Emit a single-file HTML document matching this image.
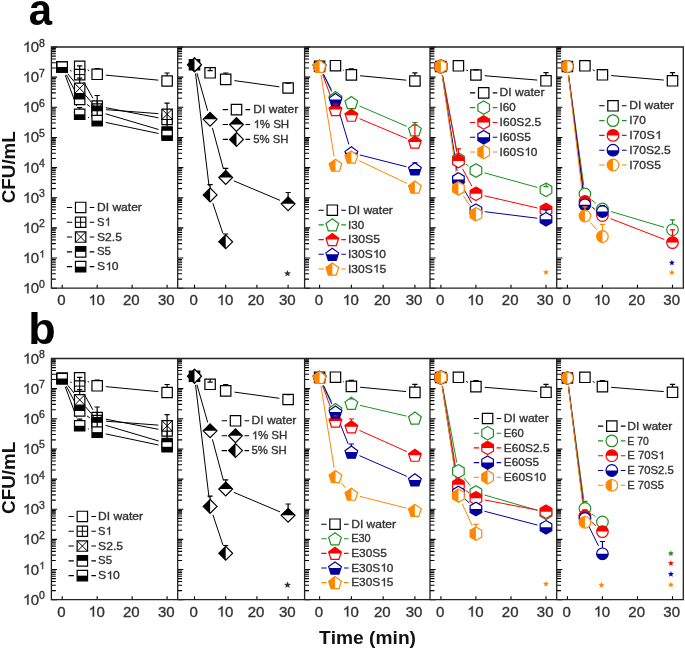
<!DOCTYPE html>
<html><head><meta charset="utf-8"><style>
html,body{margin:0;padding:0;background:#fff;}
svg{display:block;will-change:transform;}
text{font-family:"Liberation Sans",sans-serif;font-kerning:none;}
.tk{font-size:14px;fill:#333;}
.sp{font-size:10px;fill:#333;}
.lg{font-size:11px;fill:#333;}
.big{font-size:45px;font-weight:bold;fill:#000;}
.ax{font-size:17.5px;font-weight:bold;fill:#111;}
</style></head><body>
<svg width="685" height="649" viewBox="0 0 685 649">
<rect width="685" height="649" fill="#fff"/>
<path d="M51.4,288.2H57M51.4,279.12H55.8M51.4,273.81H55.8M51.4,270.05H55.8M51.4,267.13H55.8M51.4,264.74H55.8M51.4,262.72H55.8M51.4,260.97H55.8M51.4,259.43H55.8M51.4,258.05H57M51.4,248.97H55.8M51.4,243.66H55.8M51.4,239.9H55.8M51.4,236.98H55.8M51.4,234.59H55.8M51.4,232.57H55.8M51.4,230.82H55.8M51.4,229.28H55.8M51.4,227.9H57M51.4,218.82H55.8M51.4,213.51H55.8M51.4,209.75H55.8M51.4,206.83H55.8M51.4,204.44H55.8M51.4,202.42H55.8M51.4,200.67H55.8M51.4,199.13H55.8M51.4,197.75H57M51.4,188.67H55.8M51.4,183.36H55.8M51.4,179.6H55.8M51.4,176.68H55.8M51.4,174.29H55.8M51.4,172.27H55.8M51.4,170.52H55.8M51.4,168.98H55.8M51.4,167.6H57M51.4,158.52H55.8M51.4,153.21H55.8M51.4,149.45H55.8M51.4,146.53H55.8M51.4,144.14H55.8M51.4,142.12H55.8M51.4,140.37H55.8M51.4,138.83H55.8M51.4,137.45H57M51.4,128.37H55.8M51.4,123.06H55.8M51.4,119.3H55.8M51.4,116.38H55.8M51.4,113.99H55.8M51.4,111.97H55.8M51.4,110.22H55.8M51.4,108.68H55.8M51.4,107.3H57M51.4,98.22H55.8M51.4,92.91H55.8M51.4,89.15H55.8M51.4,86.23H55.8M51.4,83.84H55.8M51.4,81.82H55.8M51.4,80.07H55.8M51.4,78.53H55.8M51.4,77.15H57M51.4,68.07H55.8M51.4,62.76H55.8M51.4,59H55.8M51.4,56.08H55.8M51.4,53.69H55.8M51.4,51.67H55.8M51.4,49.92H55.8M51.4,48.38H55.8M51.4,47H57M62.2,288.2V284.7M97.17,288.2V284.7M132.13,288.2V284.7M167.1,288.2V284.7M177.7,288.2H183.3M177.7,279.12H182.1M177.7,273.81H182.1M177.7,270.05H182.1M177.7,267.13H182.1M177.7,264.74H182.1M177.7,262.72H182.1M177.7,260.97H182.1M177.7,259.43H182.1M177.7,258.05H183.3M177.7,248.97H182.1M177.7,243.66H182.1M177.7,239.9H182.1M177.7,236.98H182.1M177.7,234.59H182.1M177.7,232.57H182.1M177.7,230.82H182.1M177.7,229.28H182.1M177.7,227.9H183.3M177.7,218.82H182.1M177.7,213.51H182.1M177.7,209.75H182.1M177.7,206.83H182.1M177.7,204.44H182.1M177.7,202.42H182.1M177.7,200.67H182.1M177.7,199.13H182.1M177.7,197.75H183.3M177.7,188.67H182.1M177.7,183.36H182.1M177.7,179.6H182.1M177.7,176.68H182.1M177.7,174.29H182.1M177.7,172.27H182.1M177.7,170.52H182.1M177.7,168.98H182.1M177.7,167.6H183.3M177.7,158.52H182.1M177.7,153.21H182.1M177.7,149.45H182.1M177.7,146.53H182.1M177.7,144.14H182.1M177.7,142.12H182.1M177.7,140.37H182.1M177.7,138.83H182.1M177.7,137.45H183.3M177.7,128.37H182.1M177.7,123.06H182.1M177.7,119.3H182.1M177.7,116.38H182.1M177.7,113.99H182.1M177.7,111.97H182.1M177.7,110.22H182.1M177.7,108.68H182.1M177.7,107.3H183.3M177.7,98.22H182.1M177.7,92.91H182.1M177.7,89.15H182.1M177.7,86.23H182.1M177.7,83.84H182.1M177.7,81.82H182.1M177.7,80.07H182.1M177.7,78.53H182.1M177.7,77.15H183.3M177.7,68.07H182.1M177.7,62.76H182.1M177.7,59H182.1M177.7,56.08H182.1M177.7,53.69H182.1M177.7,51.67H182.1M177.7,49.92H182.1M177.7,48.38H182.1M177.7,47H183.3M194.5,288.2V284.7M225.7,288.2V284.7M256.9,288.2V284.7M288.1,288.2V284.7M304.6,288.2H310.2M304.6,279.12H309M304.6,273.81H309M304.6,270.05H309M304.6,267.13H309M304.6,264.74H309M304.6,262.72H309M304.6,260.97H309M304.6,259.43H309M304.6,258.05H310.2M304.6,248.97H309M304.6,243.66H309M304.6,239.9H309M304.6,236.98H309M304.6,234.59H309M304.6,232.57H309M304.6,230.82H309M304.6,229.28H309M304.6,227.9H310.2M304.6,218.82H309M304.6,213.51H309M304.6,209.75H309M304.6,206.83H309M304.6,204.44H309M304.6,202.42H309M304.6,200.67H309M304.6,199.13H309M304.6,197.75H310.2M304.6,188.67H309M304.6,183.36H309M304.6,179.6H309M304.6,176.68H309M304.6,174.29H309M304.6,172.27H309M304.6,170.52H309M304.6,168.98H309M304.6,167.6H310.2M304.6,158.52H309M304.6,153.21H309M304.6,149.45H309M304.6,146.53H309M304.6,144.14H309M304.6,142.12H309M304.6,140.37H309M304.6,138.83H309M304.6,137.45H310.2M304.6,128.37H309M304.6,123.06H309M304.6,119.3H309M304.6,116.38H309M304.6,113.99H309M304.6,111.97H309M304.6,110.22H309M304.6,108.68H309M304.6,107.3H310.2M304.6,98.22H309M304.6,92.91H309M304.6,89.15H309M304.6,86.23H309M304.6,83.84H309M304.6,81.82H309M304.6,80.07H309M304.6,78.53H309M304.6,77.15H310.2M304.6,68.07H309M304.6,62.76H309M304.6,59H309M304.6,56.08H309M304.6,53.69H309M304.6,51.67H309M304.6,49.92H309M304.6,48.38H309M304.6,47H310.2M319.6,288.2V284.7M351.37,288.2V284.7M383.13,288.2V284.7M414.9,288.2V284.7M430,288.2H435.6M430,279.12H434.4M430,273.81H434.4M430,270.05H434.4M430,267.13H434.4M430,264.74H434.4M430,262.72H434.4M430,260.97H434.4M430,259.43H434.4M430,258.05H435.6M430,248.97H434.4M430,243.66H434.4M430,239.9H434.4M430,236.98H434.4M430,234.59H434.4M430,232.57H434.4M430,230.82H434.4M430,229.28H434.4M430,227.9H435.6M430,218.82H434.4M430,213.51H434.4M430,209.75H434.4M430,206.83H434.4M430,204.44H434.4M430,202.42H434.4M430,200.67H434.4M430,199.13H434.4M430,197.75H435.6M430,188.67H434.4M430,183.36H434.4M430,179.6H434.4M430,176.68H434.4M430,174.29H434.4M430,172.27H434.4M430,170.52H434.4M430,168.98H434.4M430,167.6H435.6M430,158.52H434.4M430,153.21H434.4M430,149.45H434.4M430,146.53H434.4M430,144.14H434.4M430,142.12H434.4M430,140.37H434.4M430,138.83H434.4M430,137.45H435.6M430,128.37H434.4M430,123.06H434.4M430,119.3H434.4M430,116.38H434.4M430,113.99H434.4M430,111.97H434.4M430,110.22H434.4M430,108.68H434.4M430,107.3H435.6M430,98.22H434.4M430,92.91H434.4M430,89.15H434.4M430,86.23H434.4M430,83.84H434.4M430,81.82H434.4M430,80.07H434.4M430,78.53H434.4M430,77.15H435.6M430,68.07H434.4M430,62.76H434.4M430,59H434.4M430,56.08H434.4M430,53.69H434.4M430,51.67H434.4M430,49.92H434.4M430,48.38H434.4M430,47H435.6M440.9,288.2V284.7M475.93,288.2V284.7M510.97,288.2V284.7M546,288.2V284.7M556.7,288.2H562.3M556.7,279.12H561.1M556.7,273.81H561.1M556.7,270.05H561.1M556.7,267.13H561.1M556.7,264.74H561.1M556.7,262.72H561.1M556.7,260.97H561.1M556.7,259.43H561.1M556.7,258.05H562.3M556.7,248.97H561.1M556.7,243.66H561.1M556.7,239.9H561.1M556.7,236.98H561.1M556.7,234.59H561.1M556.7,232.57H561.1M556.7,230.82H561.1M556.7,229.28H561.1M556.7,227.9H562.3M556.7,218.82H561.1M556.7,213.51H561.1M556.7,209.75H561.1M556.7,206.83H561.1M556.7,204.44H561.1M556.7,202.42H561.1M556.7,200.67H561.1M556.7,199.13H561.1M556.7,197.75H562.3M556.7,188.67H561.1M556.7,183.36H561.1M556.7,179.6H561.1M556.7,176.68H561.1M556.7,174.29H561.1M556.7,172.27H561.1M556.7,170.52H561.1M556.7,168.98H561.1M556.7,167.6H562.3M556.7,158.52H561.1M556.7,153.21H561.1M556.7,149.45H561.1M556.7,146.53H561.1M556.7,144.14H561.1M556.7,142.12H561.1M556.7,140.37H561.1M556.7,138.83H561.1M556.7,137.45H562.3M556.7,128.37H561.1M556.7,123.06H561.1M556.7,119.3H561.1M556.7,116.38H561.1M556.7,113.99H561.1M556.7,111.97H561.1M556.7,110.22H561.1M556.7,108.68H561.1M556.7,107.3H562.3M556.7,98.22H561.1M556.7,92.91H561.1M556.7,89.15H561.1M556.7,86.23H561.1M556.7,83.84H561.1M556.7,81.82H561.1M556.7,80.07H561.1M556.7,78.53H561.1M556.7,77.15H562.3M556.7,68.07H561.1M556.7,62.76H561.1M556.7,59H561.1M556.7,56.08H561.1M556.7,53.69H561.1M556.7,51.67H561.1M556.7,49.92H561.1M556.7,48.38H561.1M556.7,47H562.3M567.4,288.2V284.7M602.43,288.2V284.7M637.47,288.2V284.7M672.5,288.2V284.7" stroke="#000" stroke-width="1.1" fill="none"/>
<path d="M51.4,47H683.3V288.2H51.4ZM177.7,47V288.2M304.6,47V288.2M430,47V288.2M556.7,47V288.2" stroke="#222" stroke-width="1.3" fill="none"/>
<line x1="87.69" y1="69.96" x2="89.16" y2="70.64" stroke="#000" stroke-width="1.0"/>
<line x1="105.93" y1="75.14" x2="158.34" y2="80.16" stroke="#000" stroke-width="1.0"/>
<line x1="70.27" y1="70.51" x2="71.61" y2="71.09" stroke="#000" stroke-width="1.0"/>
<line x1="83.96" y1="82.29" x2="92.89" y2="98.31" stroke="#000" stroke-width="1.0"/>
<line x1="105.81" y1="107.67" x2="158.46" y2="117.83" stroke="#000" stroke-width="1.0"/>
<line x1="67.77" y1="73.81" x2="74.12" y2="81.59" stroke="#000" stroke-width="1.0"/>
<line x1="85.38" y1="95.11" x2="91.47" y2="102.29" stroke="#000" stroke-width="1.0"/>
<line x1="105.94" y1="109.67" x2="158.33" y2="113.63" stroke="#000" stroke-width="1.0"/>
<line x1="66.37" y1="74.75" x2="75.51" y2="91.75" stroke="#000" stroke-width="1.0"/>
<line x1="86.98" y1="104.42" x2="89.87" y2="106.38" stroke="#000" stroke-width="1.0"/>
<line x1="105.6" y1="113.8" x2="158.66" y2="129.5" stroke="#000" stroke-width="1.0"/>
<line x1="65.25" y1="75.25" x2="76.63" y2="106.05" stroke="#000" stroke-width="1.0"/>
<line x1="87.96" y1="117.28" x2="88.89" y2="117.62" stroke="#000" stroke-width="1.0"/>
<line x1="105.78" y1="122.41" x2="158.49" y2="133.49" stroke="#000" stroke-width="1.0"/>
<polygon points="57,61.8 67.4,61.8 67.4,72.2 57,72.2" fill="#fff"/><polygon points="57,61.8 67.4,61.8 67.4,72.2 57,72.2" fill="none" stroke="#000" stroke-width="1.2"/>
<polygon points="74.48,61.1 84.88,61.1 84.88,71.5 74.48,71.5" fill="#fff"/><polygon points="74.48,61.1 84.88,61.1 84.88,71.5 74.48,71.5" fill="none" stroke="#000" stroke-width="1.2"/>
<polygon points="91.97,69.1 102.37,69.1 102.37,79.5 91.97,79.5" fill="#fff"/><polygon points="91.97,69.1 102.37,69.1 102.37,79.5 91.97,79.5" fill="none" stroke="#000" stroke-width="1.2"/>
<polygon points="161.9,75.8 172.3,75.8 172.3,86.2 161.9,86.2" fill="#fff"/><polygon points="161.9,75.8 172.3,75.8 172.3,86.2 161.9,86.2" fill="none" stroke="#000" stroke-width="1.2"/>
<polygon points="57,61.8 67.4,61.8 67.4,72.2 57,72.2" fill="#fff"/><path d="M62.2,61.8V72.2M57,67H67.4" stroke="#000" stroke-width="1" fill="none"/><polygon points="57,61.8 67.4,61.8 67.4,72.2 57,72.2" fill="none" stroke="#000" stroke-width="1.2"/>
<polygon points="74.48,69.4 84.88,69.4 84.88,79.8 74.48,79.8" fill="#fff"/><path d="M79.68,69.4V79.8M74.48,74.6H84.88" stroke="#000" stroke-width="1" fill="none"/><polygon points="74.48,69.4 84.88,69.4 84.88,79.8 74.48,79.8" fill="none" stroke="#000" stroke-width="1.2"/>
<polygon points="91.97,100.8 102.37,100.8 102.37,111.2 91.97,111.2" fill="#fff"/><path d="M97.17,100.8V111.2M91.97,106H102.37" stroke="#000" stroke-width="1" fill="none"/><polygon points="91.97,100.8 102.37,100.8 102.37,111.2 91.97,111.2" fill="none" stroke="#000" stroke-width="1.2"/>
<polygon points="161.9,114.3 172.3,114.3 172.3,124.7 161.9,124.7" fill="#fff"/><path d="M167.1,114.3V124.7M161.9,119.5H172.3" stroke="#000" stroke-width="1" fill="none"/><polygon points="161.9,114.3 172.3,114.3 172.3,124.7 161.9,124.7" fill="none" stroke="#000" stroke-width="1.2"/>
<polygon points="57,61.8 67.4,61.8 67.4,72.2 57,72.2" fill="#fff"/><path d="M57,61.8L67.4,72.2M67.4,61.8L57,72.2" stroke="#000" stroke-width="1" fill="none"/><polygon points="57,61.8 67.4,61.8 67.4,72.2 57,72.2" fill="none" stroke="#000" stroke-width="1.2"/>
<polygon points="74.48,83.2 84.88,83.2 84.88,93.6 74.48,93.6" fill="#fff"/><path d="M74.48,83.2L84.88,93.6M84.88,83.2L74.48,93.6" stroke="#000" stroke-width="1" fill="none"/><polygon points="74.48,83.2 84.88,83.2 84.88,93.6 74.48,93.6" fill="none" stroke="#000" stroke-width="1.2"/>
<polygon points="91.97,103.8 102.37,103.8 102.37,114.2 91.97,114.2" fill="#fff"/><path d="M91.97,103.8L102.37,114.2M102.37,103.8L91.97,114.2" stroke="#000" stroke-width="1" fill="none"/><polygon points="91.97,103.8 102.37,103.8 102.37,114.2 91.97,114.2" fill="none" stroke="#000" stroke-width="1.2"/>
<polygon points="161.9,109.1 172.3,109.1 172.3,119.5 161.9,119.5" fill="#fff"/><path d="M161.9,109.1L172.3,119.5M172.3,109.1L161.9,119.5" stroke="#000" stroke-width="1" fill="none"/><polygon points="161.9,109.1 172.3,109.1 172.3,119.5 161.9,119.5" fill="none" stroke="#000" stroke-width="1.2"/>
<polygon points="57,61.8 67.4,61.8 67.4,72.2 57,72.2" fill="#fff"/><polygon points="57,67 57,61.8 67.4,61.8 67.4,67" fill="#000"/><polygon points="57,61.8 67.4,61.8 67.4,72.2 57,72.2" fill="none" stroke="#000" stroke-width="1.2"/>
<polygon points="74.48,94.3 84.88,94.3 84.88,104.7 74.48,104.7" fill="#fff"/><polygon points="74.48,99.5 74.48,94.3 84.88,94.3 84.88,99.5" fill="#000"/><polygon points="74.48,94.3 84.88,94.3 84.88,104.7 74.48,104.7" fill="none" stroke="#000" stroke-width="1.2"/>
<polygon points="91.97,106.1 102.37,106.1 102.37,116.5 91.97,116.5" fill="#fff"/><polygon points="91.97,111.3 91.97,106.1 102.37,106.1 102.37,111.3" fill="#000"/><polygon points="91.97,106.1 102.37,106.1 102.37,116.5 91.97,116.5" fill="none" stroke="#000" stroke-width="1.2"/>
<polygon points="161.9,126.8 172.3,126.8 172.3,137.2 161.9,137.2" fill="#fff"/><polygon points="161.9,132 161.9,126.8 172.3,126.8 172.3,132" fill="#000"/><polygon points="161.9,126.8 172.3,126.8 172.3,137.2 161.9,137.2" fill="none" stroke="#000" stroke-width="1.2"/>
<polygon points="57,61.8 67.4,61.8 67.4,72.2 57,72.2" fill="#fff"/><polygon points="57,67 67.4,67 67.4,72.2 57,72.2" fill="#000"/><polygon points="57,61.8 67.4,61.8 67.4,72.2 57,72.2" fill="none" stroke="#000" stroke-width="1.2"/>
<polygon points="74.48,109.1 84.88,109.1 84.88,119.5 74.48,119.5" fill="#fff"/><polygon points="74.48,114.3 84.88,114.3 84.88,119.5 74.48,119.5" fill="#000"/><polygon points="74.48,109.1 84.88,109.1 84.88,119.5 74.48,119.5" fill="none" stroke="#000" stroke-width="1.2"/>
<polygon points="91.97,115.4 102.37,115.4 102.37,125.8 91.97,125.8" fill="#fff"/><polygon points="91.97,120.6 102.37,120.6 102.37,125.8 91.97,125.8" fill="#000"/><polygon points="91.97,115.4 102.37,115.4 102.37,125.8 91.97,125.8" fill="none" stroke="#000" stroke-width="1.2"/>
<polygon points="161.9,130.1 172.3,130.1 172.3,140.5 161.9,140.5" fill="#fff"/><polygon points="161.9,135.3 172.3,135.3 172.3,140.5 161.9,140.5" fill="#000"/><polygon points="161.9,130.1 172.3,130.1 172.3,140.5 161.9,140.5" fill="none" stroke="#000" stroke-width="1.2"/>
<path d="M97.17,69.1V68.5M94.57,68.5H99.77" stroke="#000" stroke-width="1.2" fill="none"/>
<path d="M167.1,75.8V73M164.5,73H169.7" stroke="#000" stroke-width="1.2" fill="none"/>
<path d="M79.68,69.4V65.8M77.08,65.8H82.28" stroke="#000" stroke-width="1.2" fill="none"/>
<path d="M79.68,83.2V78.2M77.08,78.2H82.28" stroke="#000" stroke-width="1.2" fill="none"/>
<path d="M167.1,126.8V103.2M164.5,103.2H169.7" stroke="#000" stroke-width="1.2" fill="none"/>
<path d="M79.68,109.1V107.6M77.08,107.6H82.28" stroke="#000" stroke-width="1.2" fill="none"/>
<path d="M97.17,115.4V95.5M94.57,95.5H99.77" stroke="#000" stroke-width="1.2" fill="none"/>
<path d="M66.85,207.45H72.15M89.65,207.45H94.25" stroke="#000" stroke-width="1.1"/>
<polygon points="75.45,202.25 85.85,202.25 85.85,212.65 75.45,212.65" fill="#fff"/><polygon points="75.45,202.25 85.85,202.25 85.85,212.65 75.45,212.65" fill="none" stroke="#000" stroke-width="1.2"/>
<g transform="translate(97,211.05) scale(1.022,1)" fill="#333" stroke="#333" stroke-width="0.35"><text x="0" y="0" style="font-size:11.8px">DI water</text></g>
<path d="M66.85,222.25H72.15M89.65,222.25H94.25" stroke="#000" stroke-width="1.1"/>
<polygon points="75.45,217.05 85.85,217.05 85.85,227.45 75.45,227.45" fill="#fff"/><path d="M80.65,217.05V227.45M75.45,222.25H85.85" stroke="#000" stroke-width="1" fill="none"/><polygon points="75.45,217.05 85.85,217.05 85.85,227.45 75.45,227.45" fill="none" stroke="#000" stroke-width="1.2"/>
<g transform="translate(97,225.85) scale(0.944,1)" fill="#333" stroke="#333" stroke-width="0.35"><text x="0" y="0" style="font-size:11.8px">S </text><path d="M823 0H643V1098Q578 1038 472 979T283 890V1057Q434 1124 547 1221T707 1409H823Z" transform="translate(7.87,0) scale(0.00576,-0.00576)" stroke-width="60.75"/></g>
<path d="M66.85,237.05H72.15M89.65,237.05H94.25" stroke="#000" stroke-width="1.1"/>
<polygon points="75.45,231.85 85.85,231.85 85.85,242.25 75.45,242.25" fill="#fff"/><path d="M75.45,231.85L85.85,242.25M85.85,231.85L75.45,242.25" stroke="#000" stroke-width="1" fill="none"/><polygon points="75.45,231.85 85.85,231.85 85.85,242.25 75.45,242.25" fill="none" stroke="#000" stroke-width="1.2"/>
<g transform="translate(97,240.65) scale(1.028,1)" fill="#333" stroke="#333" stroke-width="0.35"><text x="0" y="0" style="font-size:11.8px">S2.5</text></g>
<path d="M66.85,251.85H72.15M89.65,251.85H94.25" stroke="#000" stroke-width="1.1"/>
<polygon points="75.45,246.65 85.85,246.65 85.85,257.05 75.45,257.05" fill="#fff"/><polygon points="75.45,251.85 75.45,246.65 85.85,246.65 85.85,251.85" fill="#000"/><polygon points="75.45,246.65 85.85,246.65 85.85,257.05 75.45,257.05" fill="none" stroke="#000" stroke-width="1.2"/>
<g transform="translate(97,255.45) scale(0.97,1)" fill="#333" stroke="#333" stroke-width="0.35"><text x="0" y="0" style="font-size:11.8px">S5</text></g>
<path d="M66.85,266.65H72.15M89.65,266.65H94.25" stroke="#000" stroke-width="1.1"/>
<polygon points="75.45,261.45 85.85,261.45 85.85,271.85 75.45,271.85" fill="#fff"/><polygon points="75.45,266.65 85.85,266.65 85.85,271.85 75.45,271.85" fill="#000"/><polygon points="75.45,261.45 85.85,261.45 85.85,271.85 75.45,271.85" fill="none" stroke="#000" stroke-width="1.2"/>
<g transform="translate(97,270.25) scale(1.03,1)" fill="#333" stroke="#333" stroke-width="0.35"><text x="0" y="0" style="font-size:11.8px">S 0</text><path d="M823 0H643V1098Q578 1038 472 979T283 890V1057Q434 1124 547 1221T707 1409H823Z" transform="translate(7.87,0) scale(0.00576,-0.00576)" stroke-width="60.75"/></g>
<line x1="234.42" y1="80.6" x2="279.38" y2="86.8" stroke="#000" stroke-width="1.0"/>
<line x1="196.92" y1="73.16" x2="207.68" y2="110.84" stroke="#000" stroke-width="1.0"/>
<line x1="212.38" y1="127.8" x2="223.42" y2="168.9" stroke="#000" stroke-width="1.0"/>
<line x1="233.8" y1="180.83" x2="280" y2="200.37" stroke="#000" stroke-width="1.0"/>
<line x1="195.55" y1="73.44" x2="209.05" y2="186.16" stroke="#000" stroke-width="1.0"/>
<line x1="212.88" y1="203.25" x2="222.92" y2="233.45" stroke="#000" stroke-width="1.0"/>
<polygon points="189.3,59.5 199.7,59.5 199.7,69.9 189.3,69.9" fill="#000"/><polygon points="189.3,59.5 199.7,59.5 199.7,69.9 189.3,69.9" fill="none" stroke="#000" stroke-width="1.2"/>
<polygon points="204.9,67.6 215.3,67.6 215.3,78 204.9,78" fill="#fff"/><polygon points="204.9,67.6 215.3,67.6 215.3,78 204.9,78" fill="none" stroke="#000" stroke-width="1.2"/>
<polygon points="220.5,74.2 230.9,74.2 230.9,84.6 220.5,84.6" fill="#fff"/><polygon points="220.5,74.2 230.9,74.2 230.9,84.6 220.5,84.6" fill="none" stroke="#000" stroke-width="1.2"/>
<polygon points="282.9,82.8 293.3,82.8 293.3,93.2 282.9,93.2" fill="#fff"/><polygon points="282.9,82.8 293.3,82.8 293.3,93.2 282.9,93.2" fill="none" stroke="#000" stroke-width="1.2"/>
<polygon points="194.5,57.8 201.4,64.7 194.5,71.6 187.6,64.7" fill="#fff"/><polygon points="194.5,57.8 201.4,64.7 201.4,64.7 187.6,64.7 187.6,64.7" fill="#000"/><polygon points="194.5,57.8 201.4,64.7 194.5,71.6 187.6,64.7" fill="none" stroke="#000" stroke-width="1.2"/>
<polygon points="210.1,112.4 217,119.3 210.1,126.2 203.2,119.3" fill="#fff"/><polygon points="210.1,112.4 217,119.3 217,119.3 203.2,119.3 203.2,119.3" fill="#000"/><polygon points="210.1,112.4 217,119.3 210.1,126.2 203.2,119.3" fill="none" stroke="#000" stroke-width="1.2"/>
<polygon points="225.7,170.5 232.6,177.4 225.7,184.3 218.8,177.4" fill="#fff"/><polygon points="225.7,170.5 232.6,177.4 232.6,177.4 218.8,177.4 218.8,177.4" fill="#000"/><polygon points="225.7,170.5 232.6,177.4 225.7,184.3 218.8,177.4" fill="none" stroke="#000" stroke-width="1.2"/>
<polygon points="288.1,196.9 295,203.8 288.1,210.7 281.2,203.8" fill="#fff"/><polygon points="288.1,196.9 295,203.8 295,203.8 281.2,203.8 281.2,203.8" fill="#000"/><polygon points="288.1,196.9 295,203.8 288.1,210.7 281.2,203.8" fill="none" stroke="#000" stroke-width="1.2"/>
<polygon points="194.5,57.8 201.4,64.7 194.5,71.6 187.6,64.7" fill="#fff"/><polygon points="194.5,57.8 194.5,57.8 194.5,71.6 194.5,71.6 187.6,64.7" fill="#000"/><polygon points="194.5,57.8 201.4,64.7 194.5,71.6 187.6,64.7" fill="none" stroke="#000" stroke-width="1.2"/>
<polygon points="210.1,188 217,194.9 210.1,201.8 203.2,194.9" fill="#fff"/><polygon points="210.1,188 210.1,188 210.1,201.8 210.1,201.8 203.2,194.9" fill="#000"/><polygon points="210.1,188 217,194.9 210.1,201.8 203.2,194.9" fill="none" stroke="#000" stroke-width="1.2"/>
<polygon points="225.7,234.9 232.6,241.8 225.7,248.7 218.8,241.8" fill="#fff"/><polygon points="225.7,234.9 225.7,234.9 225.7,248.7 225.7,248.7 218.8,241.8" fill="#000"/><polygon points="225.7,234.9 232.6,241.8 225.7,248.7 218.8,241.8" fill="none" stroke="#000" stroke-width="1.2"/>
<path d="M210.1,67.6V70.7M207.5,70.7H212.7" stroke="#000" stroke-width="1.2" fill="none"/>
<path d="M225.7,74.2V73M223.1,73H228.3" stroke="#000" stroke-width="1.2" fill="none"/>
<path d="M288.1,82.8V83.2M285.5,83.2H290.7" stroke="#000" stroke-width="1.2" fill="none"/>
<path d="M225.7,170.5V168.3M223.1,168.3H228.3" stroke="#000" stroke-width="1.2" fill="none"/>
<path d="M288.1,196.9V192.5M285.5,192.5H290.7" stroke="#000" stroke-width="1.2" fill="none"/>
<path d="M210.1,188V184.6M207.5,184.6H212.7" stroke="#000" stroke-width="1.2" fill="none"/>
<path d="M225.7,234.9V234M223.1,234H228.3" stroke="#000" stroke-width="1.2" fill="none"/>
<polygon points="287.5,269.9 288.45,272.19 290.92,272.39 289.04,274 289.62,276.41 287.5,275.12 285.38,276.41 285.96,274 284.08,272.39 286.55,272.19" fill="#333"/>
<path d="M222.7,109.6H228M245.5,109.6H250.1" stroke="#000" stroke-width="1.1"/>
<polygon points="231.3,104.4 241.7,104.4 241.7,114.8 231.3,114.8" fill="#fff"/><polygon points="231.3,104.4 241.7,104.4 241.7,114.8 231.3,114.8" fill="none" stroke="#000" stroke-width="1.2"/>
<g transform="translate(253.3,113.2) scale(1.022,1)" fill="#333" stroke="#333" stroke-width="0.35"><text x="0" y="0" style="font-size:11.8px">DI water</text></g>
<path d="M222.7,124.5H228M245.5,124.5H250.1" stroke="#000" stroke-width="1.1"/>
<polygon points="236.5,117.6 243.4,124.5 236.5,131.4 229.6,124.5" fill="#fff"/><polygon points="236.5,117.6 243.4,124.5 243.4,124.5 229.6,124.5 229.6,124.5" fill="#000"/><polygon points="236.5,117.6 243.4,124.5 236.5,131.4 229.6,124.5" fill="none" stroke="#000" stroke-width="1.2"/>
<g transform="translate(253.3,128.1) scale(0.979,1)" fill="#333" stroke="#333" stroke-width="0.35"><text x="0" y="0" style="font-size:11.8px"> % SH</text><path d="M823 0H643V1098Q578 1038 472 979T283 890V1057Q434 1124 547 1221T707 1409H823Z" transform="translate(0,0) scale(0.00576,-0.00576)" stroke-width="60.75"/></g>
<path d="M222.7,139.4H228M245.5,139.4H250.1" stroke="#000" stroke-width="1.1"/>
<polygon points="236.5,132.5 243.4,139.4 236.5,146.3 229.6,139.4" fill="#fff"/><polygon points="236.5,132.5 236.5,132.5 236.5,146.3 236.5,146.3 229.6,139.4" fill="#000"/><polygon points="236.5,132.5 243.4,139.4 236.5,146.3 229.6,139.4" fill="none" stroke="#000" stroke-width="1.2"/>
<g transform="translate(253.3,143) scale(0.96,1)" fill="#333" stroke="#333" stroke-width="0.35"><text x="0" y="0" style="font-size:11.8px">5% SH</text></g>
<line x1="343.1" y1="70.11" x2="343.75" y2="70.49" stroke="#000" stroke-width="1.0"/>
<line x1="360.13" y1="75.74" x2="406.14" y2="80.16" stroke="#000" stroke-width="1.0"/>
<line x1="323.58" y1="74.15" x2="331.5" y2="89.75" stroke="#1f911f" stroke-width="1.0"/>
<line x1="359.45" y1="105.97" x2="406.81" y2="126.33" stroke="#1f911f" stroke-width="1.0"/>
<line x1="322.64" y1="74.56" x2="332.45" y2="101.24" stroke="#ff0000" stroke-width="1.0"/>
<line x1="359.47" y1="118.62" x2="406.79" y2="138.58" stroke="#ff0000" stroke-width="1.0"/>
<line x1="323.4" y1="74.24" x2="331.69" y2="91.56" stroke="#0000a0" stroke-width="1.0"/>
<line x1="338" y1="107.93" x2="348.85" y2="144.37" stroke="#0000a0" stroke-width="1.0"/>
<line x1="359.9" y1="154.96" x2="406.37" y2="166.74" stroke="#0000a0" stroke-width="1.0"/>
<line x1="321" y1="74.99" x2="334.09" y2="156.51" stroke="#ff8800" stroke-width="1.0"/>
<line x1="359.32" y1="160.77" x2="406.95" y2="183.33" stroke="#ff8800" stroke-width="1.0"/>
<polygon points="314.4,61.1 324.8,61.1 324.8,71.5 314.4,71.5" fill="#fff"/><polygon points="314.4,61.1 324.8,61.1 324.8,71.5 314.4,71.5" fill="none" stroke="#000" stroke-width="1.2"/>
<polygon points="330.28,60.5 340.68,60.5 340.68,70.9 330.28,70.9" fill="#fff"/><polygon points="330.28,60.5 340.68,60.5 340.68,70.9 330.28,70.9" fill="none" stroke="#000" stroke-width="1.2"/>
<polygon points="346.17,69.7 356.57,69.7 356.57,80.1 346.17,80.1" fill="#fff"/><polygon points="346.17,69.7 356.57,69.7 356.57,80.1 346.17,80.1" fill="none" stroke="#000" stroke-width="1.2"/>
<polygon points="409.7,75.8 420.1,75.8 420.1,86.2 409.7,86.2" fill="#fff"/><polygon points="409.7,75.8 420.1,75.8 420.1,86.2 409.7,86.2" fill="none" stroke="#000" stroke-width="1.2"/>
<polygon points="319.6,60.24 325.97,64.87 323.54,72.36 315.66,72.36 313.23,64.87" fill="#fff"/><polygon points="319.6,60.24 325.97,64.87 323.54,72.36 315.66,72.36 313.23,64.87" fill="none" stroke="#1f911f" stroke-width="1.2"/>
<polygon points="335.48,91.54 341.86,96.17 339.42,103.66 331.55,103.66 329.11,96.17" fill="#fff"/><polygon points="335.48,91.54 341.86,96.17 339.42,103.66 331.55,103.66 329.11,96.17" fill="none" stroke="#1f911f" stroke-width="1.2"/>
<polygon points="351.37,96.44 357.74,101.07 355.3,108.56 347.43,108.56 344.99,101.07" fill="#fff"/><polygon points="351.37,96.44 357.74,101.07 355.3,108.56 347.43,108.56 344.99,101.07" fill="none" stroke="#1f911f" stroke-width="1.2"/>
<polygon points="414.9,123.74 421.27,128.37 418.84,135.86 410.96,135.86 408.53,128.37" fill="#fff"/><polygon points="414.9,123.74 421.27,128.37 418.84,135.86 410.96,135.86 408.53,128.37" fill="none" stroke="#1f911f" stroke-width="1.2"/>
<polygon points="319.6,60.24 325.97,64.87 323.54,72.36 315.66,72.36 313.23,64.87" fill="#fff"/><polygon points="319.6,60.24 325.97,64.87 325.51,66.3 313.69,66.3 313.23,64.87" fill="#ff0000"/><polygon points="319.6,60.24 325.97,64.87 323.54,72.36 315.66,72.36 313.23,64.87" fill="none" stroke="#ff0000" stroke-width="1.2"/>
<polygon points="335.48,103.44 341.86,108.07 339.42,115.56 331.55,115.56 329.11,108.07" fill="#fff"/><polygon points="335.48,103.44 341.86,108.07 341.39,109.5 329.58,109.5 329.11,108.07" fill="#ff0000"/><polygon points="335.48,103.44 341.86,108.07 339.42,115.56 331.55,115.56 329.11,108.07" fill="none" stroke="#ff0000" stroke-width="1.2"/>
<polygon points="351.37,109.14 357.74,113.77 355.3,121.26 347.43,121.26 344.99,113.77" fill="#fff"/><polygon points="351.37,109.14 357.74,113.77 357.27,115.2 345.46,115.2 344.99,113.77" fill="#ff0000"/><polygon points="351.37,109.14 357.74,113.77 355.3,121.26 347.43,121.26 344.99,113.77" fill="none" stroke="#ff0000" stroke-width="1.2"/>
<polygon points="414.9,135.94 421.27,140.57 418.84,148.06 410.96,148.06 408.53,140.57" fill="#fff"/><polygon points="414.9,135.94 421.27,140.57 420.81,142 408.99,142 408.53,140.57" fill="#ff0000"/><polygon points="414.9,135.94 421.27,140.57 418.84,148.06 410.96,148.06 408.53,140.57" fill="none" stroke="#ff0000" stroke-width="1.2"/>
<polygon points="319.6,60.24 325.97,64.87 323.54,72.36 315.66,72.36 313.23,64.87" fill="#fff"/><polygon points="325.51,66.3 323.54,72.36 315.66,72.36 313.69,66.3" fill="#0000a0"/><polygon points="319.6,60.24 325.97,64.87 323.54,72.36 315.66,72.36 313.23,64.87" fill="none" stroke="#0000a0" stroke-width="1.2"/>
<polygon points="335.48,93.44 341.86,98.07 339.42,105.56 331.55,105.56 329.11,98.07" fill="#fff"/><polygon points="341.39,99.5 339.42,105.56 331.55,105.56 329.58,99.5" fill="#0000a0"/><polygon points="335.48,93.44 341.86,98.07 339.42,105.56 331.55,105.56 329.11,98.07" fill="none" stroke="#0000a0" stroke-width="1.2"/>
<polygon points="351.37,146.74 357.74,151.37 355.3,158.86 347.43,158.86 344.99,151.37" fill="#fff"/><polygon points="357.27,152.8 355.3,158.86 347.43,158.86 345.46,152.8" fill="#0000a0"/><polygon points="351.37,146.74 357.74,151.37 355.3,158.86 347.43,158.86 344.99,151.37" fill="none" stroke="#0000a0" stroke-width="1.2"/>
<polygon points="414.9,162.84 421.27,167.47 418.84,174.96 410.96,174.96 408.53,167.47" fill="#fff"/><polygon points="420.81,168.9 418.84,174.96 410.96,174.96 408.99,168.9" fill="#0000a0"/><polygon points="414.9,162.84 421.27,167.47 418.84,174.96 410.96,174.96 408.53,167.47" fill="none" stroke="#0000a0" stroke-width="1.2"/>
<polygon points="319.6,60.24 325.97,64.87 323.54,72.36 315.66,72.36 313.23,64.87" fill="#fff"/><polygon points="319.6,60.24 319.6,60.24 319.6,72.36 315.66,72.36 313.23,64.87" fill="#ff8800"/><polygon points="319.6,60.24 325.97,64.87 323.54,72.36 315.66,72.36 313.23,64.87" fill="none" stroke="#ff8800" stroke-width="1.2"/>
<polygon points="335.48,159.14 341.86,163.77 339.42,171.26 331.55,171.26 329.11,163.77" fill="#fff"/><polygon points="335.48,159.14 335.48,159.14 335.48,171.26 331.55,171.26 329.11,163.77" fill="#ff8800"/><polygon points="335.48,159.14 341.86,163.77 339.42,171.26 331.55,171.26 329.11,163.77" fill="none" stroke="#ff8800" stroke-width="1.2"/>
<polygon points="351.37,150.94 357.74,155.57 355.3,163.06 347.43,163.06 344.99,155.57" fill="#fff"/><polygon points="351.37,150.94 351.37,150.94 351.37,163.06 347.43,163.06 344.99,155.57" fill="#ff8800"/><polygon points="351.37,150.94 357.74,155.57 355.3,163.06 347.43,163.06 344.99,155.57" fill="none" stroke="#ff8800" stroke-width="1.2"/>
<polygon points="414.9,181.04 421.27,185.67 418.84,193.16 410.96,193.16 408.53,185.67" fill="#fff"/><polygon points="414.9,181.04 414.9,181.04 414.9,193.16 410.96,193.16 408.53,185.67" fill="#ff8800"/><polygon points="414.9,181.04 421.27,185.67 418.84,193.16 410.96,193.16 408.53,185.67" fill="none" stroke="#ff8800" stroke-width="1.2"/>
<path d="M351.37,69.7V68.8M348.77,68.8H353.97" stroke="#000" stroke-width="1.2" fill="none"/>
<path d="M414.9,75.8V72.9M412.3,72.9H417.5" stroke="#000" stroke-width="1.2" fill="none"/>
<path d="M414.9,123.74V122.5M412.3,122.5H417.5" stroke="#1f911f" stroke-width="1.2" fill="none"/>
<path d="M335.48,103.44V104.1M332.88,104.1H338.08" stroke="#ff0000" stroke-width="1.2" fill="none"/>
<path d="M414.9,135.94V125M412.3,125H417.5" stroke="#ff0000" stroke-width="1.2" fill="none"/>
<path d="M414.9,162.84V162.8M412.3,162.8H417.5" stroke="#0000a0" stroke-width="1.2" fill="none"/>
<path d="M318.5,210.2H323.8M341.3,210.2H345.9" stroke="#000" stroke-width="1.1"/>
<polygon points="327.1,205 337.5,205 337.5,215.4 327.1,215.4" fill="#fff"/><polygon points="327.1,205 337.5,205 337.5,215.4 327.1,215.4" fill="none" stroke="#000" stroke-width="1.2"/>
<g transform="translate(348,213.8) scale(1.022,1)" fill="#333" stroke="#333" stroke-width="0.35"><text x="0" y="0" style="font-size:11.8px">DI water</text></g>
<path d="M318.5,224.9H323.8M341.3,224.9H345.9" stroke="#1f911f" stroke-width="1.1"/>
<polygon points="332.3,218.84 338.67,223.47 336.24,230.96 328.36,230.96 325.93,223.47" fill="#fff"/><polygon points="332.3,218.84 338.67,223.47 336.24,230.96 328.36,230.96 325.93,223.47" fill="none" stroke="#1f911f" stroke-width="1.2"/>
<g transform="translate(348,228.5) scale(0.983,1)" fill="#333" stroke="#333" stroke-width="0.35"><text x="0" y="0" style="font-size:11.8px">I30</text></g>
<path d="M318.5,239.6H323.8M341.3,239.6H345.9" stroke="#ff0000" stroke-width="1.1"/>
<polygon points="332.3,233.54 338.67,238.17 336.24,245.66 328.36,245.66 325.93,238.17" fill="#fff"/><polygon points="332.3,233.54 338.67,238.17 338.21,239.6 326.39,239.6 325.93,238.17" fill="#ff0000"/><polygon points="332.3,233.54 338.67,238.17 336.24,245.66 328.36,245.66 325.93,238.17" fill="none" stroke="#ff0000" stroke-width="1.2"/>
<g transform="translate(348,243.2) scale(1.043,1)" fill="#333" stroke="#333" stroke-width="0.35"><text x="0" y="0" style="font-size:11.8px">I30S5</text></g>
<path d="M318.5,254.3H323.8M341.3,254.3H345.9" stroke="#0000a0" stroke-width="1.1"/>
<polygon points="332.3,248.24 338.67,252.87 336.24,260.36 328.36,260.36 325.93,252.87" fill="#fff"/><polygon points="338.21,254.3 336.24,260.36 328.36,260.36 326.39,254.3" fill="#0000a0"/><polygon points="332.3,248.24 338.67,252.87 336.24,260.36 328.36,260.36 325.93,252.87" fill="none" stroke="#0000a0" stroke-width="1.2"/>
<g transform="translate(348,257.9) scale(1.018,1)" fill="#333" stroke="#333" stroke-width="0.35"><text x="0" y="0" style="font-size:11.8px">I30S 0</text><path d="M823 0H643V1098Q578 1038 472 979T283 890V1057Q434 1124 547 1221T707 1409H823Z" transform="translate(24.27,0) scale(0.00576,-0.00576)" stroke-width="60.75"/></g>
<path d="M318.5,269H323.8M341.3,269H345.9" stroke="#ff8800" stroke-width="1.1"/>
<polygon points="332.3,262.94 338.67,267.57 336.24,275.06 328.36,275.06 325.93,267.57" fill="#fff"/><polygon points="332.3,262.94 332.3,262.94 332.3,275.06 328.36,275.06 325.93,267.57" fill="#ff8800"/><polygon points="332.3,262.94 338.67,267.57 336.24,275.06 328.36,275.06 325.93,267.57" fill="none" stroke="#ff8800" stroke-width="1.2"/>
<g transform="translate(348,272.6) scale(1.019,1)" fill="#333" stroke="#333" stroke-width="0.35"><text x="0" y="0" style="font-size:11.8px">I30S 5</text><path d="M823 0H643V1098Q578 1038 472 979T283 890V1057Q434 1124 547 1221T707 1409H823Z" transform="translate(24.27,0) scale(0.00576,-0.00576)" stroke-width="60.75"/></g>
<line x1="466.21" y1="69.89" x2="468.14" y2="70.91" stroke="#000" stroke-width="1.0"/>
<line x1="484.7" y1="75.73" x2="537.23" y2="80.07" stroke="#000" stroke-width="1.0"/>
<line x1="442.53" y1="75.15" x2="456.79" y2="150.85" stroke="#1f911f" stroke-width="1.0"/>
<line x1="465.87" y1="164.18" x2="468.48" y2="165.82" stroke="#1f911f" stroke-width="1.0"/>
<line x1="484.42" y1="172.84" x2="537.52" y2="187.46" stroke="#1f911f" stroke-width="1.0"/>
<line x1="442.5" y1="75.15" x2="456.81" y2="152.35" stroke="#ff0000" stroke-width="1.0"/>
<line x1="462.56" y1="168.76" x2="471.79" y2="186.04" stroke="#ff0000" stroke-width="1.0"/>
<line x1="484.51" y1="195.78" x2="537.43" y2="208.02" stroke="#ff0000" stroke-width="1.0"/>
<line x1="442.25" y1="75.2" x2="457.07" y2="170.8" stroke="#0000a0" stroke-width="1.0"/>
<line x1="462.74" y1="187.17" x2="471.61" y2="202.93" stroke="#0000a0" stroke-width="1.0"/>
<line x1="484.67" y1="211.68" x2="537.27" y2="218.22" stroke="#0000a0" stroke-width="1.0"/>
<line x1="442.15" y1="75.21" x2="457.17" y2="179.79" stroke="#ff8800" stroke-width="1.0"/>
<line x1="463.36" y1="195.78" x2="470.99" y2="207.02" stroke="#ff8800" stroke-width="1.0"/>
<polygon points="435.7,61.3 446.1,61.3 446.1,71.7 435.7,71.7" fill="#fff"/><polygon points="435.7,61.3 446.1,61.3 446.1,71.7 435.7,71.7" fill="none" stroke="#000" stroke-width="1.2"/>
<polygon points="453.22,60.6 463.62,60.6 463.62,71 453.22,71" fill="#fff"/><polygon points="453.22,60.6 463.62,60.6 463.62,71 453.22,71" fill="none" stroke="#000" stroke-width="1.2"/>
<polygon points="470.73,69.8 481.13,69.8 481.13,80.2 470.73,80.2" fill="#fff"/><polygon points="470.73,69.8 481.13,69.8 481.13,80.2 470.73,80.2" fill="none" stroke="#000" stroke-width="1.2"/>
<polygon points="540.8,75.6 551.2,75.6 551.2,86 540.8,86" fill="#fff"/><polygon points="540.8,75.6 551.2,75.6 551.2,86 540.8,86" fill="none" stroke="#000" stroke-width="1.2"/>
<polygon points="440.9,59.8 446.7,63.15 446.7,69.85 440.9,73.2 435.1,69.85 435.1,63.15" fill="#fff"/><polygon points="440.9,59.8 446.7,63.15 446.7,69.85 440.9,73.2 435.1,69.85 435.1,63.15" fill="none" stroke="#1f911f" stroke-width="1.2"/>
<polygon points="458.42,152.8 464.22,156.15 464.22,162.85 458.42,166.2 452.61,162.85 452.61,156.15" fill="#fff"/><polygon points="458.42,152.8 464.22,156.15 464.22,162.85 458.42,166.2 452.61,162.85 452.61,156.15" fill="none" stroke="#1f911f" stroke-width="1.2"/>
<polygon points="475.93,163.8 481.74,167.15 481.74,173.85 475.93,177.2 470.13,173.85 470.13,167.15" fill="#fff"/><polygon points="475.93,163.8 481.74,167.15 481.74,173.85 475.93,177.2 470.13,173.85 470.13,167.15" fill="none" stroke="#1f911f" stroke-width="1.2"/>
<polygon points="546,183.1 551.8,186.45 551.8,193.15 546,196.5 540.2,193.15 540.2,186.45" fill="#fff"/><polygon points="546,183.1 551.8,186.45 551.8,193.15 546,196.5 540.2,193.15 540.2,186.45" fill="none" stroke="#1f911f" stroke-width="1.2"/>
<polygon points="440.9,59.8 446.7,63.15 446.7,69.85 440.9,73.2 435.1,69.85 435.1,63.15" fill="#fff"/><polygon points="440.9,59.8 446.7,63.15 446.7,66.5 435.1,66.5 435.1,63.15" fill="#ff0000"/><polygon points="440.9,59.8 446.7,63.15 446.7,69.85 440.9,73.2 435.1,69.85 435.1,63.15" fill="none" stroke="#ff0000" stroke-width="1.2"/>
<polygon points="458.42,154.3 464.22,157.65 464.22,164.35 458.42,167.7 452.61,164.35 452.61,157.65" fill="#fff"/><polygon points="458.42,154.3 464.22,157.65 464.22,161 452.61,161 452.61,157.65" fill="#ff0000"/><polygon points="458.42,154.3 464.22,157.65 464.22,164.35 458.42,167.7 452.61,164.35 452.61,157.65" fill="none" stroke="#ff0000" stroke-width="1.2"/>
<polygon points="475.93,187.1 481.74,190.45 481.74,197.15 475.93,200.5 470.13,197.15 470.13,190.45" fill="#fff"/><polygon points="475.93,187.1 481.74,190.45 481.74,193.8 470.13,193.8 470.13,190.45" fill="#ff0000"/><polygon points="475.93,187.1 481.74,190.45 481.74,197.15 475.93,200.5 470.13,197.15 470.13,190.45" fill="none" stroke="#ff0000" stroke-width="1.2"/>
<polygon points="546,203.3 551.8,206.65 551.8,213.35 546,216.7 540.2,213.35 540.2,206.65" fill="#fff"/><polygon points="546,203.3 551.8,206.65 551.8,210 540.2,210 540.2,206.65" fill="#ff0000"/><polygon points="546,203.3 551.8,206.65 551.8,213.35 546,216.7 540.2,213.35 540.2,206.65" fill="none" stroke="#ff0000" stroke-width="1.2"/>
<polygon points="440.9,59.8 446.7,63.15 446.7,69.85 440.9,73.2 435.1,69.85 435.1,63.15" fill="#fff"/><polygon points="446.7,66.5 446.7,69.85 440.9,73.2 435.1,69.85 435.1,66.5" fill="#0000a0"/><polygon points="440.9,59.8 446.7,63.15 446.7,69.85 440.9,73.2 435.1,69.85 435.1,63.15" fill="none" stroke="#0000a0" stroke-width="1.2"/>
<polygon points="458.42,172.8 464.22,176.15 464.22,182.85 458.42,186.2 452.61,182.85 452.61,176.15" fill="#fff"/><polygon points="464.22,179.5 464.22,182.85 458.42,186.2 452.61,182.85 452.61,179.5" fill="#0000a0"/><polygon points="458.42,172.8 464.22,176.15 464.22,182.85 458.42,186.2 452.61,182.85 452.61,176.15" fill="none" stroke="#0000a0" stroke-width="1.2"/>
<polygon points="475.93,203.9 481.74,207.25 481.74,213.95 475.93,217.3 470.13,213.95 470.13,207.25" fill="#fff"/><polygon points="481.74,210.6 481.74,213.95 475.93,217.3 470.13,213.95 470.13,210.6" fill="#0000a0"/><polygon points="475.93,203.9 481.74,207.25 481.74,213.95 475.93,217.3 470.13,213.95 470.13,207.25" fill="none" stroke="#0000a0" stroke-width="1.2"/>
<polygon points="546,212.6 551.8,215.95 551.8,222.65 546,226 540.2,222.65 540.2,215.95" fill="#fff"/><polygon points="551.8,219.3 551.8,222.65 546,226 540.2,222.65 540.2,219.3" fill="#0000a0"/><polygon points="546,212.6 551.8,215.95 551.8,222.65 546,226 540.2,222.65 540.2,215.95" fill="none" stroke="#0000a0" stroke-width="1.2"/>
<polygon points="440.9,59.8 446.7,63.15 446.7,69.85 440.9,73.2 435.1,69.85 435.1,63.15" fill="#fff"/><polygon points="440.9,59.8 440.9,59.8 440.9,73.2 440.9,73.2 435.1,69.85 435.1,63.15" fill="#ff8800"/><polygon points="440.9,59.8 446.7,63.15 446.7,69.85 440.9,73.2 435.1,69.85 435.1,63.15" fill="none" stroke="#ff8800" stroke-width="1.2"/>
<polygon points="458.42,181.8 464.22,185.15 464.22,191.85 458.42,195.2 452.61,191.85 452.61,185.15" fill="#fff"/><polygon points="458.42,181.8 458.42,181.8 458.42,195.2 458.42,195.2 452.61,191.85 452.61,185.15" fill="#ff8800"/><polygon points="458.42,181.8 464.22,185.15 464.22,191.85 458.42,195.2 452.61,191.85 452.61,185.15" fill="none" stroke="#ff8800" stroke-width="1.2"/>
<polygon points="475.93,207.6 481.74,210.95 481.74,217.65 475.93,221 470.13,217.65 470.13,210.95" fill="#fff"/><polygon points="475.93,207.6 475.93,207.6 475.93,221 475.93,221 470.13,217.65 470.13,210.95" fill="#ff8800"/><polygon points="475.93,207.6 481.74,210.95 481.74,217.65 475.93,221 470.13,217.65 470.13,210.95" fill="none" stroke="#ff8800" stroke-width="1.2"/>
<path d="M475.93,69.8V69.8M473.33,69.8H478.53" stroke="#000" stroke-width="1.2" fill="none"/>
<path d="M546,75.6V72.6M543.4,72.6H548.6" stroke="#000" stroke-width="1.2" fill="none"/>
<path d="M546,183.1V186.6M543.4,186.6H548.6" stroke="#1f911f" stroke-width="1.2" fill="none"/>
<path d="M458.42,154.3V148.8M455.82,148.8H461.02" stroke="#ff0000" stroke-width="1.2" fill="none"/>
<path d="M546,212.6V209.9M543.4,209.9H548.6" stroke="#0000a0" stroke-width="1.2" fill="none"/>
<polygon points="546,269.2 546.82,271.17 548.95,271.34 547.33,272.73 547.82,274.81 546,273.69 544.18,274.81 544.67,272.73 543.05,271.34 545.18,271.17" fill="#ff8800"/>
<path d="M469.9,92.85H475.2M492.7,92.85H497.3" stroke="#000" stroke-width="1.1"/>
<polygon points="478.5,87.65 488.9,87.65 488.9,98.05 478.5,98.05" fill="#fff"/><polygon points="478.5,87.65 488.9,87.65 488.9,98.05 478.5,98.05" fill="none" stroke="#000" stroke-width="1.2"/>
<g transform="translate(499.6,96.45) scale(1.022,1)" fill="#333" stroke="#333" stroke-width="0.35"><text x="0" y="0" style="font-size:11.8px">DI water</text></g>
<path d="M469.9,107.65H475.2M492.7,107.65H497.3" stroke="#1f911f" stroke-width="1.1"/>
<polygon points="483.7,100.95 489.5,104.3 489.5,111 483.7,114.35 477.9,111 477.9,104.3" fill="#fff"/><polygon points="483.7,100.95 489.5,104.3 489.5,111 483.7,114.35 477.9,111 477.9,104.3" fill="none" stroke="#1f911f" stroke-width="1.2"/>
<g transform="translate(499.6,111.25) scale(0.983,1)" fill="#333" stroke="#333" stroke-width="0.35"><text x="0" y="0" style="font-size:11.8px">I60</text></g>
<path d="M469.9,122.45H475.2M492.7,122.45H497.3" stroke="#ff0000" stroke-width="1.1"/>
<polygon points="483.7,115.75 489.5,119.1 489.5,125.8 483.7,129.15 477.9,125.8 477.9,119.1" fill="#fff"/><polygon points="483.7,115.75 489.5,119.1 489.5,122.45 477.9,122.45 477.9,119.1" fill="#ff0000"/><polygon points="483.7,115.75 489.5,119.1 489.5,125.8 483.7,129.15 477.9,125.8 477.9,119.1" fill="none" stroke="#ff0000" stroke-width="1.2"/>
<g transform="translate(499.6,126.05) scale(1.023,1)" fill="#333" stroke="#333" stroke-width="0.35"><text x="0" y="0" style="font-size:11.8px">I60S2.5</text></g>
<path d="M469.9,137.25H475.2M492.7,137.25H497.3" stroke="#0000a0" stroke-width="1.1"/>
<polygon points="483.7,130.55 489.5,133.9 489.5,140.6 483.7,143.95 477.9,140.6 477.9,133.9" fill="#fff"/><polygon points="489.5,137.25 489.5,140.6 483.7,143.95 477.9,140.6 477.9,137.25" fill="#0000a0"/><polygon points="483.7,130.55 489.5,133.9 489.5,140.6 483.7,143.95 477.9,140.6 477.9,133.9" fill="none" stroke="#0000a0" stroke-width="1.2"/>
<g transform="translate(499.6,140.85) scale(1.015,1)" fill="#333" stroke="#333" stroke-width="0.35"><text x="0" y="0" style="font-size:11.8px">I60S5</text></g>
<path d="M469.9,152.05H475.2M492.7,152.05H497.3" stroke="#ff8800" stroke-width="1.1"/>
<polygon points="483.7,145.35 489.5,148.7 489.5,155.4 483.7,158.75 477.9,155.4 477.9,148.7" fill="#fff"/><polygon points="483.7,145.35 483.7,145.35 483.7,158.75 483.7,158.75 477.9,155.4 477.9,148.7" fill="#ff8800"/><polygon points="483.7,145.35 489.5,148.7 489.5,155.4 483.7,158.75 477.9,155.4 477.9,148.7" fill="none" stroke="#ff8800" stroke-width="1.2"/>
<g transform="translate(499.6,155.65) scale(1.013,1)" fill="#333" stroke="#333" stroke-width="0.35"><text x="0" y="0" style="font-size:11.8px">I60S 0</text><path d="M823 0H643V1098Q578 1038 472 979T283 890V1057Q434 1124 547 1221T707 1409H823Z" transform="translate(24.27,0) scale(0.00576,-0.00576)" stroke-width="60.75"/></g>
<line x1="592.74" y1="69.82" x2="594.61" y2="70.78" stroke="#000" stroke-width="1.0"/>
<line x1="611.2" y1="75.55" x2="663.73" y2="80.05" stroke="#000" stroke-width="1.0"/>
<line x1="568.6" y1="75.22" x2="583.72" y2="185.28" stroke="#1f911f" stroke-width="1.0"/>
<line x1="591.6" y1="199.72" x2="595.75" y2="203.28" stroke="#1f911f" stroke-width="1.0"/>
<line x1="610.87" y1="211.5" x2="664.06" y2="227.3" stroke="#1f911f" stroke-width="1.0"/>
<line x1="568.53" y1="75.23" x2="583.78" y2="192.77" stroke="#ff0000" stroke-width="1.0"/>
<line x1="591.79" y1="206.99" x2="595.56" y2="210.01" stroke="#ff0000" stroke-width="1.0"/>
<line x1="610.64" y1="218.67" x2="664.29" y2="239.43" stroke="#ff0000" stroke-width="1.0"/>
<line x1="568.51" y1="75.23" x2="583.81" y2="196.07" stroke="#0000a0" stroke-width="1.0"/>
<line x1="593.14" y1="207.94" x2="594.21" y2="208.36" stroke="#0000a0" stroke-width="1.0"/>
<line x1="568.42" y1="75.24" x2="583.89" y2="207.26" stroke="#ff8800" stroke-width="1.0"/>
<line x1="590.63" y1="222.69" x2="596.72" y2="229.81" stroke="#ff8800" stroke-width="1.0"/>
<polygon points="562.2,61.3 572.6,61.3 572.6,71.7 562.2,71.7" fill="#fff"/><polygon points="562.2,61.3 572.6,61.3 572.6,71.7 562.2,71.7" fill="none" stroke="#000" stroke-width="1.2"/>
<polygon points="579.72,60.6 590.12,60.6 590.12,71 579.72,71" fill="#fff"/><polygon points="579.72,60.6 590.12,60.6 590.12,71 579.72,71" fill="none" stroke="#000" stroke-width="1.2"/>
<polygon points="597.23,69.6 607.63,69.6 607.63,80 597.23,80" fill="#fff"/><polygon points="597.23,69.6 607.63,69.6 607.63,80 597.23,80" fill="none" stroke="#000" stroke-width="1.2"/>
<polygon points="667.3,75.6 677.7,75.6 677.7,86 667.3,86" fill="#fff"/><polygon points="667.3,75.6 677.7,75.6 677.7,86 667.3,86" fill="none" stroke="#000" stroke-width="1.2"/>
<circle cx="567.4" cy="66.5" r="5.8" fill="#fff"/><circle cx="567.4" cy="66.5" r="5.8" fill="none" stroke="#1f911f" stroke-width="1.2"/>
<circle cx="584.92" cy="194" r="5.8" fill="#fff"/><circle cx="584.92" cy="194" r="5.8" fill="none" stroke="#1f911f" stroke-width="1.2"/>
<circle cx="602.43" cy="209" r="5.8" fill="#fff"/><circle cx="602.43" cy="209" r="5.8" fill="none" stroke="#1f911f" stroke-width="1.2"/>
<circle cx="672.5" cy="229.8" r="5.8" fill="#fff"/><circle cx="672.5" cy="229.8" r="5.8" fill="none" stroke="#1f911f" stroke-width="1.2"/>
<circle cx="567.4" cy="66.5" r="5.8" fill="#fff"/><path d="M561.6,66.5 A5.8,5.8 0 0 1 573.2,66.5 Z" fill="#ff0000"/><circle cx="567.4" cy="66.5" r="5.8" fill="none" stroke="#ff0000" stroke-width="1.2"/>
<circle cx="584.92" cy="201.5" r="5.8" fill="#fff"/><path d="M579.12,201.5 A5.8,5.8 0 0 1 590.72,201.5 Z" fill="#ff0000"/><circle cx="584.92" cy="201.5" r="5.8" fill="none" stroke="#ff0000" stroke-width="1.2"/>
<circle cx="602.43" cy="215.5" r="5.8" fill="#fff"/><path d="M596.63,215.5 A5.8,5.8 0 0 1 608.23,215.5 Z" fill="#ff0000"/><circle cx="602.43" cy="215.5" r="5.8" fill="none" stroke="#ff0000" stroke-width="1.2"/>
<circle cx="672.5" cy="242.6" r="5.8" fill="#fff"/><path d="M666.7,242.6 A5.8,5.8 0 0 1 678.3,242.6 Z" fill="#ff0000"/><circle cx="672.5" cy="242.6" r="5.8" fill="none" stroke="#ff0000" stroke-width="1.2"/>
<circle cx="567.4" cy="66.5" r="5.8" fill="#fff"/><path d="M561.6,66.5 A5.8,5.8 0 0 0 573.2,66.5 Z" fill="#0000a0"/><circle cx="567.4" cy="66.5" r="5.8" fill="none" stroke="#0000a0" stroke-width="1.2"/>
<circle cx="584.92" cy="204.8" r="5.8" fill="#fff"/><path d="M579.12,204.8 A5.8,5.8 0 0 0 590.72,204.8 Z" fill="#0000a0"/><circle cx="584.92" cy="204.8" r="5.8" fill="none" stroke="#0000a0" stroke-width="1.2"/>
<circle cx="602.43" cy="211.5" r="5.8" fill="#fff"/><path d="M596.63,211.5 A5.8,5.8 0 0 0 608.23,211.5 Z" fill="#0000a0"/><circle cx="602.43" cy="211.5" r="5.8" fill="none" stroke="#0000a0" stroke-width="1.2"/>
<circle cx="567.4" cy="66.5" r="5.8" fill="#fff"/><path d="M567.4,60.7 A5.8,5.8 0 0 0 567.4,72.3 Z" fill="#ff8800"/><circle cx="567.4" cy="66.5" r="5.8" fill="none" stroke="#ff8800" stroke-width="1.2"/>
<circle cx="584.92" cy="216" r="5.8" fill="#fff"/><path d="M584.92,210.2 A5.8,5.8 0 0 0 584.92,221.8 Z" fill="#ff8800"/><circle cx="584.92" cy="216" r="5.8" fill="none" stroke="#ff8800" stroke-width="1.2"/>
<circle cx="602.43" cy="236.5" r="5.8" fill="#fff"/><path d="M602.43,230.7 A5.8,5.8 0 0 0 602.43,242.3 Z" fill="#ff8800"/><circle cx="602.43" cy="236.5" r="5.8" fill="none" stroke="#ff8800" stroke-width="1.2"/>
<path d="M602.43,69.6V69.6M599.83,69.6H605.03" stroke="#000" stroke-width="1.2" fill="none"/>
<path d="M672.5,75.6V72.6M669.9,72.6H675.1" stroke="#000" stroke-width="1.2" fill="none"/>
<path d="M672.5,224V219.8M669.9,219.8H675.1" stroke="#1f911f" stroke-width="1.2" fill="none"/>
<path d="M672.5,236.8V229.8M669.9,229.8H675.1" stroke="#ff0000" stroke-width="1.2" fill="none"/>
<path d="M602.43,205.7V205.6M599.83,205.6H605.03" stroke="#0000a0" stroke-width="1.2" fill="none"/>
<path d="M584.92,210.2V206.8M582.32,206.8H587.52" stroke="#ff8800" stroke-width="1.2" fill="none"/>
<path d="M602.43,230.7V224.4M599.83,224.4H605.03" stroke="#ff8800" stroke-width="1.2" fill="none"/>
<polygon points="671.9,259.7 672.72,261.67 674.85,261.84 673.23,263.23 673.72,265.31 671.9,264.19 670.08,265.31 670.57,263.23 668.95,261.84 671.08,261.67" fill="#0000a0"/>
<polygon points="671.9,269.5 672.72,271.47 674.85,271.64 673.23,273.03 673.72,275.11 671.9,274 670.08,275.11 670.57,273.03 668.95,271.64 671.08,271.47" fill="#ff8800"/>
<path d="M599.2,105.8H604.5M622,105.8H626.6" stroke="#000" stroke-width="1.1"/>
<polygon points="607.8,100.6 618.2,100.6 618.2,111 607.8,111" fill="#fff"/><polygon points="607.8,100.6 618.2,100.6 618.2,111 607.8,111" fill="none" stroke="#000" stroke-width="1.2"/>
<g transform="translate(629.2,109.4) scale(1.022,1)" fill="#333" stroke="#333" stroke-width="0.35"><text x="0" y="0" style="font-size:11.8px">DI water</text></g>
<path d="M599.2,120.6H604.5M622,120.6H626.6" stroke="#1f911f" stroke-width="1.1"/>
<circle cx="613" cy="120.6" r="5.8" fill="#fff"/><circle cx="613" cy="120.6" r="5.8" fill="none" stroke="#1f911f" stroke-width="1.2"/>
<g transform="translate(629.2,124.2) scale(1.01,1)" fill="#333" stroke="#333" stroke-width="0.35"><text x="0" y="0" style="font-size:11.8px">I70</text></g>
<path d="M599.2,135.4H604.5M622,135.4H626.6" stroke="#ff0000" stroke-width="1.1"/>
<circle cx="613" cy="135.4" r="5.8" fill="#fff"/><path d="M607.2,135.4 A5.8,5.8 0 0 1 618.8,135.4 Z" fill="#ff0000"/><circle cx="613" cy="135.4" r="5.8" fill="none" stroke="#ff0000" stroke-width="1.2"/>
<g transform="translate(629.2,139) scale(1.053,1)" fill="#333" stroke="#333" stroke-width="0.35"><text x="0" y="0" style="font-size:11.8px">I70S </text><path d="M823 0H643V1098Q578 1038 472 979T283 890V1057Q434 1124 547 1221T707 1409H823Z" transform="translate(24.27,0) scale(0.00576,-0.00576)" stroke-width="60.75"/></g>
<path d="M599.2,150.2H604.5M622,150.2H626.6" stroke="#0000a0" stroke-width="1.1"/>
<circle cx="613" cy="150.2" r="5.8" fill="#fff"/><path d="M607.2,150.2 A5.8,5.8 0 0 0 618.8,150.2 Z" fill="#0000a0"/><circle cx="613" cy="150.2" r="5.8" fill="none" stroke="#0000a0" stroke-width="1.2"/>
<g transform="translate(629.2,153.8) scale(1.023,1)" fill="#333" stroke="#333" stroke-width="0.35"><text x="0" y="0" style="font-size:11.8px">I70S2.5</text></g>
<path d="M599.2,165H604.5M622,165H626.6" stroke="#ff8800" stroke-width="1.1"/>
<circle cx="613" cy="165" r="5.8" fill="#fff"/><path d="M613,159.2 A5.8,5.8 0 0 0 613,170.8 Z" fill="#ff8800"/><circle cx="613" cy="165" r="5.8" fill="none" stroke="#ff8800" stroke-width="1.2"/>
<g transform="translate(629.2,168.6) scale(1.029,1)" fill="#333" stroke="#333" stroke-width="0.35"><text x="0" y="0" style="font-size:11.8px">I70S5</text></g>
<g transform="translate(61.4,305)" fill="#333" stroke="#333" stroke-width="0.35"><text x="-4.17" y="0" style="font-size:15px">0</text></g>
<g transform="translate(96.37,305)" fill="#333" stroke="#333" stroke-width="0.35"><text x="-8.34" y="0" style="font-size:15px"> 0</text><path d="M823 0H643V1098Q578 1038 472 979T283 890V1057Q434 1124 547 1221T707 1409H823Z" transform="translate(-8.34,0) scale(0.00732,-0.00732)" stroke-width="47.79"/></g>
<g transform="translate(131.33,305)" fill="#333" stroke="#333" stroke-width="0.35"><text x="-8.34" y="0" style="font-size:15px">20</text></g>
<g transform="translate(166.3,305)" fill="#333" stroke="#333" stroke-width="0.35"><text x="-8.34" y="0" style="font-size:15px">30</text></g>
<g transform="translate(193.7,305)" fill="#333" stroke="#333" stroke-width="0.35"><text x="-4.17" y="0" style="font-size:15px">0</text></g>
<g transform="translate(224.9,305)" fill="#333" stroke="#333" stroke-width="0.35"><text x="-8.34" y="0" style="font-size:15px"> 0</text><path d="M823 0H643V1098Q578 1038 472 979T283 890V1057Q434 1124 547 1221T707 1409H823Z" transform="translate(-8.34,0) scale(0.00732,-0.00732)" stroke-width="47.79"/></g>
<g transform="translate(256.1,305)" fill="#333" stroke="#333" stroke-width="0.35"><text x="-8.34" y="0" style="font-size:15px">20</text></g>
<g transform="translate(287.3,305)" fill="#333" stroke="#333" stroke-width="0.35"><text x="-8.34" y="0" style="font-size:15px">30</text></g>
<g transform="translate(318.8,305)" fill="#333" stroke="#333" stroke-width="0.35"><text x="-4.17" y="0" style="font-size:15px">0</text></g>
<g transform="translate(350.57,305)" fill="#333" stroke="#333" stroke-width="0.35"><text x="-8.34" y="0" style="font-size:15px"> 0</text><path d="M823 0H643V1098Q578 1038 472 979T283 890V1057Q434 1124 547 1221T707 1409H823Z" transform="translate(-8.34,0) scale(0.00732,-0.00732)" stroke-width="47.79"/></g>
<g transform="translate(382.33,305)" fill="#333" stroke="#333" stroke-width="0.35"><text x="-8.34" y="0" style="font-size:15px">20</text></g>
<g transform="translate(414.1,305)" fill="#333" stroke="#333" stroke-width="0.35"><text x="-8.34" y="0" style="font-size:15px">30</text></g>
<g transform="translate(440.1,305)" fill="#333" stroke="#333" stroke-width="0.35"><text x="-4.17" y="0" style="font-size:15px">0</text></g>
<g transform="translate(475.13,305)" fill="#333" stroke="#333" stroke-width="0.35"><text x="-8.34" y="0" style="font-size:15px"> 0</text><path d="M823 0H643V1098Q578 1038 472 979T283 890V1057Q434 1124 547 1221T707 1409H823Z" transform="translate(-8.34,0) scale(0.00732,-0.00732)" stroke-width="47.79"/></g>
<g transform="translate(510.17,305)" fill="#333" stroke="#333" stroke-width="0.35"><text x="-8.34" y="0" style="font-size:15px">20</text></g>
<g transform="translate(545.2,305)" fill="#333" stroke="#333" stroke-width="0.35"><text x="-8.34" y="0" style="font-size:15px">30</text></g>
<g transform="translate(566.6,305)" fill="#333" stroke="#333" stroke-width="0.35"><text x="-4.17" y="0" style="font-size:15px">0</text></g>
<g transform="translate(601.63,305)" fill="#333" stroke="#333" stroke-width="0.35"><text x="-8.34" y="0" style="font-size:15px"> 0</text><path d="M823 0H643V1098Q578 1038 472 979T283 890V1057Q434 1124 547 1221T707 1409H823Z" transform="translate(-8.34,0) scale(0.00732,-0.00732)" stroke-width="47.79"/></g>
<g transform="translate(636.67,305)" fill="#333" stroke="#333" stroke-width="0.35"><text x="-8.34" y="0" style="font-size:15px">20</text></g>
<g transform="translate(671.7,305)" fill="#333" stroke="#333" stroke-width="0.35"><text x="-8.34" y="0" style="font-size:15px">30</text></g>
<g transform="translate(39.2,293.2)" fill="#333" stroke="#333" stroke-width="0.35"><text x="-16.68" y="0" style="font-size:15px"> 0</text><path d="M823 0H643V1098Q578 1038 472 979T283 890V1057Q434 1124 547 1221T707 1409H823Z" transform="translate(-16.68,0) scale(0.00732,-0.00732)" stroke-width="47.79"/></g>
<g transform="translate(38.9,287.7)" fill="#333" stroke="#333" stroke-width="0.35"><text x="0" y="0" style="font-size:10.5px">0</text></g>
<g transform="translate(39.2,263.05)" fill="#333" stroke="#333" stroke-width="0.35"><text x="-16.68" y="0" style="font-size:15px"> 0</text><path d="M823 0H643V1098Q578 1038 472 979T283 890V1057Q434 1124 547 1221T707 1409H823Z" transform="translate(-16.68,0) scale(0.00732,-0.00732)" stroke-width="47.79"/></g>
<g transform="translate(38.9,257.55)" fill="#333" stroke="#333" stroke-width="0.35"><text x="0" y="0" style="font-size:10.5px"> </text><path d="M823 0H643V1098Q578 1038 472 979T283 890V1057Q434 1124 547 1221T707 1409H823Z" transform="translate(0,0) scale(0.00513,-0.00513)" stroke-width="68.27"/></g>
<g transform="translate(39.2,232.9)" fill="#333" stroke="#333" stroke-width="0.35"><text x="-16.68" y="0" style="font-size:15px"> 0</text><path d="M823 0H643V1098Q578 1038 472 979T283 890V1057Q434 1124 547 1221T707 1409H823Z" transform="translate(-16.68,0) scale(0.00732,-0.00732)" stroke-width="47.79"/></g>
<g transform="translate(38.9,227.4)" fill="#333" stroke="#333" stroke-width="0.35"><text x="0" y="0" style="font-size:10.5px">2</text></g>
<g transform="translate(39.2,202.75)" fill="#333" stroke="#333" stroke-width="0.35"><text x="-16.68" y="0" style="font-size:15px"> 0</text><path d="M823 0H643V1098Q578 1038 472 979T283 890V1057Q434 1124 547 1221T707 1409H823Z" transform="translate(-16.68,0) scale(0.00732,-0.00732)" stroke-width="47.79"/></g>
<g transform="translate(38.9,197.25)" fill="#333" stroke="#333" stroke-width="0.35"><text x="0" y="0" style="font-size:10.5px">3</text></g>
<g transform="translate(39.2,172.6)" fill="#333" stroke="#333" stroke-width="0.35"><text x="-16.68" y="0" style="font-size:15px"> 0</text><path d="M823 0H643V1098Q578 1038 472 979T283 890V1057Q434 1124 547 1221T707 1409H823Z" transform="translate(-16.68,0) scale(0.00732,-0.00732)" stroke-width="47.79"/></g>
<g transform="translate(38.9,167.1)" fill="#333" stroke="#333" stroke-width="0.35"><text x="0" y="0" style="font-size:10.5px">4</text></g>
<g transform="translate(39.2,142.45)" fill="#333" stroke="#333" stroke-width="0.35"><text x="-16.68" y="0" style="font-size:15px"> 0</text><path d="M823 0H643V1098Q578 1038 472 979T283 890V1057Q434 1124 547 1221T707 1409H823Z" transform="translate(-16.68,0) scale(0.00732,-0.00732)" stroke-width="47.79"/></g>
<g transform="translate(38.9,136.95)" fill="#333" stroke="#333" stroke-width="0.35"><text x="0" y="0" style="font-size:10.5px">5</text></g>
<g transform="translate(39.2,112.3)" fill="#333" stroke="#333" stroke-width="0.35"><text x="-16.68" y="0" style="font-size:15px"> 0</text><path d="M823 0H643V1098Q578 1038 472 979T283 890V1057Q434 1124 547 1221T707 1409H823Z" transform="translate(-16.68,0) scale(0.00732,-0.00732)" stroke-width="47.79"/></g>
<g transform="translate(38.9,106.8)" fill="#333" stroke="#333" stroke-width="0.35"><text x="0" y="0" style="font-size:10.5px">6</text></g>
<g transform="translate(39.2,82.15)" fill="#333" stroke="#333" stroke-width="0.35"><text x="-16.68" y="0" style="font-size:15px"> 0</text><path d="M823 0H643V1098Q578 1038 472 979T283 890V1057Q434 1124 547 1221T707 1409H823Z" transform="translate(-16.68,0) scale(0.00732,-0.00732)" stroke-width="47.79"/></g>
<g transform="translate(38.9,76.65)" fill="#333" stroke="#333" stroke-width="0.35"><text x="0" y="0" style="font-size:10.5px">7</text></g>
<g transform="translate(39.2,52)" fill="#333" stroke="#333" stroke-width="0.35"><text x="-16.68" y="0" style="font-size:15px"> 0</text><path d="M823 0H643V1098Q578 1038 472 979T283 890V1057Q434 1124 547 1221T707 1409H823Z" transform="translate(-16.68,0) scale(0.00732,-0.00732)" stroke-width="47.79"/></g>
<g transform="translate(38.9,46.5)" fill="#333" stroke="#333" stroke-width="0.35"><text x="0" y="0" style="font-size:10.5px">8</text></g>
<path d="M51.4,599.7H57M51.4,590.62H55.8M51.4,585.31H55.8M51.4,581.55H55.8M51.4,578.63H55.8M51.4,576.24H55.8M51.4,574.22H55.8M51.4,572.47H55.8M51.4,570.93H55.8M51.4,569.55H57M51.4,560.47H55.8M51.4,555.16H55.8M51.4,551.4H55.8M51.4,548.48H55.8M51.4,546.09H55.8M51.4,544.07H55.8M51.4,542.32H55.8M51.4,540.78H55.8M51.4,539.4H57M51.4,530.32H55.8M51.4,525.01H55.8M51.4,521.25H55.8M51.4,518.33H55.8M51.4,515.94H55.8M51.4,513.92H55.8M51.4,512.17H55.8M51.4,510.63H55.8M51.4,509.25H57M51.4,500.17H55.8M51.4,494.86H55.8M51.4,491.1H55.8M51.4,488.18H55.8M51.4,485.79H55.8M51.4,483.77H55.8M51.4,482.02H55.8M51.4,480.48H55.8M51.4,479.1H57M51.4,470.02H55.8M51.4,464.71H55.8M51.4,460.95H55.8M51.4,458.03H55.8M51.4,455.64H55.8M51.4,453.62H55.8M51.4,451.87H55.8M51.4,450.33H55.8M51.4,448.95H57M51.4,439.87H55.8M51.4,434.56H55.8M51.4,430.8H55.8M51.4,427.88H55.8M51.4,425.49H55.8M51.4,423.47H55.8M51.4,421.72H55.8M51.4,420.18H55.8M51.4,418.8H57M51.4,409.72H55.8M51.4,404.41H55.8M51.4,400.65H55.8M51.4,397.73H55.8M51.4,395.34H55.8M51.4,393.32H55.8M51.4,391.57H55.8M51.4,390.03H55.8M51.4,388.65H57M51.4,379.57H55.8M51.4,374.26H55.8M51.4,370.5H55.8M51.4,367.58H55.8M51.4,365.19H55.8M51.4,363.17H55.8M51.4,361.42H55.8M51.4,359.88H55.8M51.4,358.5H57M62.2,599.7V596.2M97.17,599.7V596.2M132.13,599.7V596.2M167.1,599.7V596.2M177.7,599.7H183.3M177.7,590.62H182.1M177.7,585.31H182.1M177.7,581.55H182.1M177.7,578.63H182.1M177.7,576.24H182.1M177.7,574.22H182.1M177.7,572.47H182.1M177.7,570.93H182.1M177.7,569.55H183.3M177.7,560.47H182.1M177.7,555.16H182.1M177.7,551.4H182.1M177.7,548.48H182.1M177.7,546.09H182.1M177.7,544.07H182.1M177.7,542.32H182.1M177.7,540.78H182.1M177.7,539.4H183.3M177.7,530.32H182.1M177.7,525.01H182.1M177.7,521.25H182.1M177.7,518.33H182.1M177.7,515.94H182.1M177.7,513.92H182.1M177.7,512.17H182.1M177.7,510.63H182.1M177.7,509.25H183.3M177.7,500.17H182.1M177.7,494.86H182.1M177.7,491.1H182.1M177.7,488.18H182.1M177.7,485.79H182.1M177.7,483.77H182.1M177.7,482.02H182.1M177.7,480.48H182.1M177.7,479.1H183.3M177.7,470.02H182.1M177.7,464.71H182.1M177.7,460.95H182.1M177.7,458.03H182.1M177.7,455.64H182.1M177.7,453.62H182.1M177.7,451.87H182.1M177.7,450.33H182.1M177.7,448.95H183.3M177.7,439.87H182.1M177.7,434.56H182.1M177.7,430.8H182.1M177.7,427.88H182.1M177.7,425.49H182.1M177.7,423.47H182.1M177.7,421.72H182.1M177.7,420.18H182.1M177.7,418.8H183.3M177.7,409.72H182.1M177.7,404.41H182.1M177.7,400.65H182.1M177.7,397.73H182.1M177.7,395.34H182.1M177.7,393.32H182.1M177.7,391.57H182.1M177.7,390.03H182.1M177.7,388.65H183.3M177.7,379.57H182.1M177.7,374.26H182.1M177.7,370.5H182.1M177.7,367.58H182.1M177.7,365.19H182.1M177.7,363.17H182.1M177.7,361.42H182.1M177.7,359.88H182.1M177.7,358.5H183.3M194.5,599.7V596.2M225.7,599.7V596.2M256.9,599.7V596.2M288.1,599.7V596.2M304.6,599.7H310.2M304.6,590.62H309M304.6,585.31H309M304.6,581.55H309M304.6,578.63H309M304.6,576.24H309M304.6,574.22H309M304.6,572.47H309M304.6,570.93H309M304.6,569.55H310.2M304.6,560.47H309M304.6,555.16H309M304.6,551.4H309M304.6,548.48H309M304.6,546.09H309M304.6,544.07H309M304.6,542.32H309M304.6,540.78H309M304.6,539.4H310.2M304.6,530.32H309M304.6,525.01H309M304.6,521.25H309M304.6,518.33H309M304.6,515.94H309M304.6,513.92H309M304.6,512.17H309M304.6,510.63H309M304.6,509.25H310.2M304.6,500.17H309M304.6,494.86H309M304.6,491.1H309M304.6,488.18H309M304.6,485.79H309M304.6,483.77H309M304.6,482.02H309M304.6,480.48H309M304.6,479.1H310.2M304.6,470.02H309M304.6,464.71H309M304.6,460.95H309M304.6,458.03H309M304.6,455.64H309M304.6,453.62H309M304.6,451.87H309M304.6,450.33H309M304.6,448.95H310.2M304.6,439.87H309M304.6,434.56H309M304.6,430.8H309M304.6,427.88H309M304.6,425.49H309M304.6,423.47H309M304.6,421.72H309M304.6,420.18H309M304.6,418.8H310.2M304.6,409.72H309M304.6,404.41H309M304.6,400.65H309M304.6,397.73H309M304.6,395.34H309M304.6,393.32H309M304.6,391.57H309M304.6,390.03H309M304.6,388.65H310.2M304.6,379.57H309M304.6,374.26H309M304.6,370.5H309M304.6,367.58H309M304.6,365.19H309M304.6,363.17H309M304.6,361.42H309M304.6,359.88H309M304.6,358.5H310.2M319.6,599.7V596.2M351.37,599.7V596.2M383.13,599.7V596.2M414.9,599.7V596.2M430,599.7H435.6M430,590.62H434.4M430,585.31H434.4M430,581.55H434.4M430,578.63H434.4M430,576.24H434.4M430,574.22H434.4M430,572.47H434.4M430,570.93H434.4M430,569.55H435.6M430,560.47H434.4M430,555.16H434.4M430,551.4H434.4M430,548.48H434.4M430,546.09H434.4M430,544.07H434.4M430,542.32H434.4M430,540.78H434.4M430,539.4H435.6M430,530.32H434.4M430,525.01H434.4M430,521.25H434.4M430,518.33H434.4M430,515.94H434.4M430,513.92H434.4M430,512.17H434.4M430,510.63H434.4M430,509.25H435.6M430,500.17H434.4M430,494.86H434.4M430,491.1H434.4M430,488.18H434.4M430,485.79H434.4M430,483.77H434.4M430,482.02H434.4M430,480.48H434.4M430,479.1H435.6M430,470.02H434.4M430,464.71H434.4M430,460.95H434.4M430,458.03H434.4M430,455.64H434.4M430,453.62H434.4M430,451.87H434.4M430,450.33H434.4M430,448.95H435.6M430,439.87H434.4M430,434.56H434.4M430,430.8H434.4M430,427.88H434.4M430,425.49H434.4M430,423.47H434.4M430,421.72H434.4M430,420.18H434.4M430,418.8H435.6M430,409.72H434.4M430,404.41H434.4M430,400.65H434.4M430,397.73H434.4M430,395.34H434.4M430,393.32H434.4M430,391.57H434.4M430,390.03H434.4M430,388.65H435.6M430,379.57H434.4M430,374.26H434.4M430,370.5H434.4M430,367.58H434.4M430,365.19H434.4M430,363.17H434.4M430,361.42H434.4M430,359.88H434.4M430,358.5H435.6M440.9,599.7V596.2M475.93,599.7V596.2M510.97,599.7V596.2M546,599.7V596.2M556.7,599.7H562.3M556.7,590.62H561.1M556.7,585.31H561.1M556.7,581.55H561.1M556.7,578.63H561.1M556.7,576.24H561.1M556.7,574.22H561.1M556.7,572.47H561.1M556.7,570.93H561.1M556.7,569.55H562.3M556.7,560.47H561.1M556.7,555.16H561.1M556.7,551.4H561.1M556.7,548.48H561.1M556.7,546.09H561.1M556.7,544.07H561.1M556.7,542.32H561.1M556.7,540.78H561.1M556.7,539.4H562.3M556.7,530.32H561.1M556.7,525.01H561.1M556.7,521.25H561.1M556.7,518.33H561.1M556.7,515.94H561.1M556.7,513.92H561.1M556.7,512.17H561.1M556.7,510.63H561.1M556.7,509.25H562.3M556.7,500.17H561.1M556.7,494.86H561.1M556.7,491.1H561.1M556.7,488.18H561.1M556.7,485.79H561.1M556.7,483.77H561.1M556.7,482.02H561.1M556.7,480.48H561.1M556.7,479.1H562.3M556.7,470.02H561.1M556.7,464.71H561.1M556.7,460.95H561.1M556.7,458.03H561.1M556.7,455.64H561.1M556.7,453.62H561.1M556.7,451.87H561.1M556.7,450.33H561.1M556.7,448.95H562.3M556.7,439.87H561.1M556.7,434.56H561.1M556.7,430.8H561.1M556.7,427.88H561.1M556.7,425.49H561.1M556.7,423.47H561.1M556.7,421.72H561.1M556.7,420.18H561.1M556.7,418.8H562.3M556.7,409.72H561.1M556.7,404.41H561.1M556.7,400.65H561.1M556.7,397.73H561.1M556.7,395.34H561.1M556.7,393.32H561.1M556.7,391.57H561.1M556.7,390.03H561.1M556.7,388.65H562.3M556.7,379.57H561.1M556.7,374.26H561.1M556.7,370.5H561.1M556.7,367.58H561.1M556.7,365.19H561.1M556.7,363.17H561.1M556.7,361.42H561.1M556.7,359.88H561.1M556.7,358.5H562.3M567.4,599.7V596.2M602.43,599.7V596.2M637.47,599.7V596.2M672.5,599.7V596.2" stroke="#000" stroke-width="1.1" fill="none"/>
<path d="M51.4,358.5H683.3V599.7H51.4ZM177.7,358.5V599.7M304.6,358.5V599.7M430,358.5V599.7M556.7,358.5V599.7" stroke="#222" stroke-width="1.3" fill="none"/>
<line x1="87.69" y1="381.46" x2="89.16" y2="382.14" stroke="#000" stroke-width="1.0"/>
<line x1="105.93" y1="386.64" x2="158.34" y2="391.66" stroke="#000" stroke-width="1.0"/>
<line x1="70.27" y1="382.01" x2="71.61" y2="382.59" stroke="#000" stroke-width="1.0"/>
<line x1="83.96" y1="393.79" x2="92.89" y2="409.81" stroke="#000" stroke-width="1.0"/>
<line x1="105.81" y1="419.17" x2="158.46" y2="429.33" stroke="#000" stroke-width="1.0"/>
<line x1="67.77" y1="385.31" x2="74.12" y2="393.09" stroke="#000" stroke-width="1.0"/>
<line x1="85.38" y1="406.61" x2="91.47" y2="413.79" stroke="#000" stroke-width="1.0"/>
<line x1="105.94" y1="421.17" x2="158.33" y2="425.13" stroke="#000" stroke-width="1.0"/>
<line x1="66.37" y1="386.25" x2="75.51" y2="403.25" stroke="#000" stroke-width="1.0"/>
<line x1="86.98" y1="415.92" x2="89.87" y2="417.88" stroke="#000" stroke-width="1.0"/>
<line x1="105.6" y1="425.3" x2="158.66" y2="441" stroke="#000" stroke-width="1.0"/>
<line x1="65.25" y1="386.75" x2="76.63" y2="417.55" stroke="#000" stroke-width="1.0"/>
<line x1="87.96" y1="428.78" x2="88.89" y2="429.12" stroke="#000" stroke-width="1.0"/>
<line x1="105.78" y1="433.91" x2="158.49" y2="444.99" stroke="#000" stroke-width="1.0"/>
<polygon points="57,373.3 67.4,373.3 67.4,383.7 57,383.7" fill="#fff"/><polygon points="57,373.3 67.4,373.3 67.4,383.7 57,383.7" fill="none" stroke="#000" stroke-width="1.2"/>
<polygon points="74.48,372.6 84.88,372.6 84.88,383 74.48,383" fill="#fff"/><polygon points="74.48,372.6 84.88,372.6 84.88,383 74.48,383" fill="none" stroke="#000" stroke-width="1.2"/>
<polygon points="91.97,380.6 102.37,380.6 102.37,391 91.97,391" fill="#fff"/><polygon points="91.97,380.6 102.37,380.6 102.37,391 91.97,391" fill="none" stroke="#000" stroke-width="1.2"/>
<polygon points="161.9,387.3 172.3,387.3 172.3,397.7 161.9,397.7" fill="#fff"/><polygon points="161.9,387.3 172.3,387.3 172.3,397.7 161.9,397.7" fill="none" stroke="#000" stroke-width="1.2"/>
<polygon points="57,373.3 67.4,373.3 67.4,383.7 57,383.7" fill="#fff"/><path d="M62.2,373.3V383.7M57,378.5H67.4" stroke="#000" stroke-width="1" fill="none"/><polygon points="57,373.3 67.4,373.3 67.4,383.7 57,383.7" fill="none" stroke="#000" stroke-width="1.2"/>
<polygon points="74.48,380.9 84.88,380.9 84.88,391.3 74.48,391.3" fill="#fff"/><path d="M79.68,380.9V391.3M74.48,386.1H84.88" stroke="#000" stroke-width="1" fill="none"/><polygon points="74.48,380.9 84.88,380.9 84.88,391.3 74.48,391.3" fill="none" stroke="#000" stroke-width="1.2"/>
<polygon points="91.97,412.3 102.37,412.3 102.37,422.7 91.97,422.7" fill="#fff"/><path d="M97.17,412.3V422.7M91.97,417.5H102.37" stroke="#000" stroke-width="1" fill="none"/><polygon points="91.97,412.3 102.37,412.3 102.37,422.7 91.97,422.7" fill="none" stroke="#000" stroke-width="1.2"/>
<polygon points="161.9,425.8 172.3,425.8 172.3,436.2 161.9,436.2" fill="#fff"/><path d="M167.1,425.8V436.2M161.9,431H172.3" stroke="#000" stroke-width="1" fill="none"/><polygon points="161.9,425.8 172.3,425.8 172.3,436.2 161.9,436.2" fill="none" stroke="#000" stroke-width="1.2"/>
<polygon points="57,373.3 67.4,373.3 67.4,383.7 57,383.7" fill="#fff"/><path d="M57,373.3L67.4,383.7M67.4,373.3L57,383.7" stroke="#000" stroke-width="1" fill="none"/><polygon points="57,373.3 67.4,373.3 67.4,383.7 57,383.7" fill="none" stroke="#000" stroke-width="1.2"/>
<polygon points="74.48,394.7 84.88,394.7 84.88,405.1 74.48,405.1" fill="#fff"/><path d="M74.48,394.7L84.88,405.1M84.88,394.7L74.48,405.1" stroke="#000" stroke-width="1" fill="none"/><polygon points="74.48,394.7 84.88,394.7 84.88,405.1 74.48,405.1" fill="none" stroke="#000" stroke-width="1.2"/>
<polygon points="91.97,415.3 102.37,415.3 102.37,425.7 91.97,425.7" fill="#fff"/><path d="M91.97,415.3L102.37,425.7M102.37,415.3L91.97,425.7" stroke="#000" stroke-width="1" fill="none"/><polygon points="91.97,415.3 102.37,415.3 102.37,425.7 91.97,425.7" fill="none" stroke="#000" stroke-width="1.2"/>
<polygon points="161.9,420.6 172.3,420.6 172.3,431 161.9,431" fill="#fff"/><path d="M161.9,420.6L172.3,431M172.3,420.6L161.9,431" stroke="#000" stroke-width="1" fill="none"/><polygon points="161.9,420.6 172.3,420.6 172.3,431 161.9,431" fill="none" stroke="#000" stroke-width="1.2"/>
<polygon points="57,373.3 67.4,373.3 67.4,383.7 57,383.7" fill="#fff"/><polygon points="57,378.5 57,373.3 67.4,373.3 67.4,378.5" fill="#000"/><polygon points="57,373.3 67.4,373.3 67.4,383.7 57,383.7" fill="none" stroke="#000" stroke-width="1.2"/>
<polygon points="74.48,405.8 84.88,405.8 84.88,416.2 74.48,416.2" fill="#fff"/><polygon points="74.48,411 74.48,405.8 84.88,405.8 84.88,411" fill="#000"/><polygon points="74.48,405.8 84.88,405.8 84.88,416.2 74.48,416.2" fill="none" stroke="#000" stroke-width="1.2"/>
<polygon points="91.97,417.6 102.37,417.6 102.37,428 91.97,428" fill="#fff"/><polygon points="91.97,422.8 91.97,417.6 102.37,417.6 102.37,422.8" fill="#000"/><polygon points="91.97,417.6 102.37,417.6 102.37,428 91.97,428" fill="none" stroke="#000" stroke-width="1.2"/>
<polygon points="161.9,438.3 172.3,438.3 172.3,448.7 161.9,448.7" fill="#fff"/><polygon points="161.9,443.5 161.9,438.3 172.3,438.3 172.3,443.5" fill="#000"/><polygon points="161.9,438.3 172.3,438.3 172.3,448.7 161.9,448.7" fill="none" stroke="#000" stroke-width="1.2"/>
<polygon points="57,373.3 67.4,373.3 67.4,383.7 57,383.7" fill="#fff"/><polygon points="57,378.5 67.4,378.5 67.4,383.7 57,383.7" fill="#000"/><polygon points="57,373.3 67.4,373.3 67.4,383.7 57,383.7" fill="none" stroke="#000" stroke-width="1.2"/>
<polygon points="74.48,420.6 84.88,420.6 84.88,431 74.48,431" fill="#fff"/><polygon points="74.48,425.8 84.88,425.8 84.88,431 74.48,431" fill="#000"/><polygon points="74.48,420.6 84.88,420.6 84.88,431 74.48,431" fill="none" stroke="#000" stroke-width="1.2"/>
<polygon points="91.97,426.9 102.37,426.9 102.37,437.3 91.97,437.3" fill="#fff"/><polygon points="91.97,432.1 102.37,432.1 102.37,437.3 91.97,437.3" fill="#000"/><polygon points="91.97,426.9 102.37,426.9 102.37,437.3 91.97,437.3" fill="none" stroke="#000" stroke-width="1.2"/>
<polygon points="161.9,441.6 172.3,441.6 172.3,452 161.9,452" fill="#fff"/><polygon points="161.9,446.8 172.3,446.8 172.3,452 161.9,452" fill="#000"/><polygon points="161.9,441.6 172.3,441.6 172.3,452 161.9,452" fill="none" stroke="#000" stroke-width="1.2"/>
<path d="M97.17,380.6V380M94.57,380H99.77" stroke="#000" stroke-width="1.2" fill="none"/>
<path d="M167.1,387.3V384.5M164.5,384.5H169.7" stroke="#000" stroke-width="1.2" fill="none"/>
<path d="M79.68,380.9V377.3M77.08,377.3H82.28" stroke="#000" stroke-width="1.2" fill="none"/>
<path d="M79.68,394.7V389.7M77.08,389.7H82.28" stroke="#000" stroke-width="1.2" fill="none"/>
<path d="M167.1,438.3V414.7M164.5,414.7H169.7" stroke="#000" stroke-width="1.2" fill="none"/>
<path d="M79.68,420.6V419.1M77.08,419.1H82.28" stroke="#000" stroke-width="1.2" fill="none"/>
<path d="M97.17,426.9V407M94.57,407H99.77" stroke="#000" stroke-width="1.2" fill="none"/>
<path d="M68.55,516.45H73.85M91.35,516.45H95.95" stroke="#000" stroke-width="1.1"/>
<polygon points="77.15,511.25 87.55,511.25 87.55,521.65 77.15,521.65" fill="#fff"/><polygon points="77.15,511.25 87.55,511.25 87.55,521.65 77.15,521.65" fill="none" stroke="#000" stroke-width="1.2"/>
<g transform="translate(98.1,520.05) scale(1.022,1)" fill="#333" stroke="#333" stroke-width="0.35"><text x="0" y="0" style="font-size:11.8px">DI water</text></g>
<path d="M68.55,531.25H73.85M91.35,531.25H95.95" stroke="#000" stroke-width="1.1"/>
<polygon points="77.15,526.05 87.55,526.05 87.55,536.45 77.15,536.45" fill="#fff"/><path d="M82.35,526.05V536.45M77.15,531.25H87.55" stroke="#000" stroke-width="1" fill="none"/><polygon points="77.15,526.05 87.55,526.05 87.55,536.45 77.15,536.45" fill="none" stroke="#000" stroke-width="1.2"/>
<g transform="translate(98.1,534.85) scale(0.944,1)" fill="#333" stroke="#333" stroke-width="0.35"><text x="0" y="0" style="font-size:11.8px">S </text><path d="M823 0H643V1098Q578 1038 472 979T283 890V1057Q434 1124 547 1221T707 1409H823Z" transform="translate(7.87,0) scale(0.00576,-0.00576)" stroke-width="60.75"/></g>
<path d="M68.55,546.05H73.85M91.35,546.05H95.95" stroke="#000" stroke-width="1.1"/>
<polygon points="77.15,540.85 87.55,540.85 87.55,551.25 77.15,551.25" fill="#fff"/><path d="M77.15,540.85L87.55,551.25M87.55,540.85L77.15,551.25" stroke="#000" stroke-width="1" fill="none"/><polygon points="77.15,540.85 87.55,540.85 87.55,551.25 77.15,551.25" fill="none" stroke="#000" stroke-width="1.2"/>
<g transform="translate(98.1,549.65) scale(1.028,1)" fill="#333" stroke="#333" stroke-width="0.35"><text x="0" y="0" style="font-size:11.8px">S2.5</text></g>
<path d="M68.55,560.85H73.85M91.35,560.85H95.95" stroke="#000" stroke-width="1.1"/>
<polygon points="77.15,555.65 87.55,555.65 87.55,566.05 77.15,566.05" fill="#fff"/><polygon points="77.15,560.85 77.15,555.65 87.55,555.65 87.55,560.85" fill="#000"/><polygon points="77.15,555.65 87.55,555.65 87.55,566.05 77.15,566.05" fill="none" stroke="#000" stroke-width="1.2"/>
<g transform="translate(98.1,564.45) scale(0.97,1)" fill="#333" stroke="#333" stroke-width="0.35"><text x="0" y="0" style="font-size:11.8px">S5</text></g>
<path d="M68.55,575.65H73.85M91.35,575.65H95.95" stroke="#000" stroke-width="1.1"/>
<polygon points="77.15,570.45 87.55,570.45 87.55,580.85 77.15,580.85" fill="#fff"/><polygon points="77.15,575.65 87.55,575.65 87.55,580.85 77.15,580.85" fill="#000"/><polygon points="77.15,570.45 87.55,570.45 87.55,580.85 77.15,580.85" fill="none" stroke="#000" stroke-width="1.2"/>
<g transform="translate(98.1,579.25) scale(1.03,1)" fill="#333" stroke="#333" stroke-width="0.35"><text x="0" y="0" style="font-size:11.8px">S 0</text><path d="M823 0H643V1098Q578 1038 472 979T283 890V1057Q434 1124 547 1221T707 1409H823Z" transform="translate(7.87,0) scale(0.00576,-0.00576)" stroke-width="60.75"/></g>
<line x1="234.42" y1="392.1" x2="279.38" y2="398.3" stroke="#000" stroke-width="1.0"/>
<line x1="196.92" y1="384.66" x2="207.68" y2="422.34" stroke="#000" stroke-width="1.0"/>
<line x1="212.38" y1="439.3" x2="223.42" y2="480.4" stroke="#000" stroke-width="1.0"/>
<line x1="233.8" y1="492.33" x2="280" y2="511.87" stroke="#000" stroke-width="1.0"/>
<line x1="195.55" y1="384.94" x2="209.05" y2="497.66" stroke="#000" stroke-width="1.0"/>
<line x1="212.88" y1="514.75" x2="222.92" y2="544.95" stroke="#000" stroke-width="1.0"/>
<polygon points="189.3,371 199.7,371 199.7,381.4 189.3,381.4" fill="#000"/><polygon points="189.3,371 199.7,371 199.7,381.4 189.3,381.4" fill="none" stroke="#000" stroke-width="1.2"/>
<polygon points="204.9,379.1 215.3,379.1 215.3,389.5 204.9,389.5" fill="#fff"/><polygon points="204.9,379.1 215.3,379.1 215.3,389.5 204.9,389.5" fill="none" stroke="#000" stroke-width="1.2"/>
<polygon points="220.5,385.7 230.9,385.7 230.9,396.1 220.5,396.1" fill="#fff"/><polygon points="220.5,385.7 230.9,385.7 230.9,396.1 220.5,396.1" fill="none" stroke="#000" stroke-width="1.2"/>
<polygon points="282.9,394.3 293.3,394.3 293.3,404.7 282.9,404.7" fill="#fff"/><polygon points="282.9,394.3 293.3,394.3 293.3,404.7 282.9,404.7" fill="none" stroke="#000" stroke-width="1.2"/>
<polygon points="194.5,369.3 201.4,376.2 194.5,383.1 187.6,376.2" fill="#fff"/><polygon points="194.5,369.3 201.4,376.2 201.4,376.2 187.6,376.2 187.6,376.2" fill="#000"/><polygon points="194.5,369.3 201.4,376.2 194.5,383.1 187.6,376.2" fill="none" stroke="#000" stroke-width="1.2"/>
<polygon points="210.1,423.9 217,430.8 210.1,437.7 203.2,430.8" fill="#fff"/><polygon points="210.1,423.9 217,430.8 217,430.8 203.2,430.8 203.2,430.8" fill="#000"/><polygon points="210.1,423.9 217,430.8 210.1,437.7 203.2,430.8" fill="none" stroke="#000" stroke-width="1.2"/>
<polygon points="225.7,482 232.6,488.9 225.7,495.8 218.8,488.9" fill="#fff"/><polygon points="225.7,482 232.6,488.9 232.6,488.9 218.8,488.9 218.8,488.9" fill="#000"/><polygon points="225.7,482 232.6,488.9 225.7,495.8 218.8,488.9" fill="none" stroke="#000" stroke-width="1.2"/>
<polygon points="288.1,508.4 295,515.3 288.1,522.2 281.2,515.3" fill="#fff"/><polygon points="288.1,508.4 295,515.3 295,515.3 281.2,515.3 281.2,515.3" fill="#000"/><polygon points="288.1,508.4 295,515.3 288.1,522.2 281.2,515.3" fill="none" stroke="#000" stroke-width="1.2"/>
<polygon points="194.5,369.3 201.4,376.2 194.5,383.1 187.6,376.2" fill="#fff"/><polygon points="194.5,369.3 194.5,369.3 194.5,383.1 194.5,383.1 187.6,376.2" fill="#000"/><polygon points="194.5,369.3 201.4,376.2 194.5,383.1 187.6,376.2" fill="none" stroke="#000" stroke-width="1.2"/>
<polygon points="210.1,499.5 217,506.4 210.1,513.3 203.2,506.4" fill="#fff"/><polygon points="210.1,499.5 210.1,499.5 210.1,513.3 210.1,513.3 203.2,506.4" fill="#000"/><polygon points="210.1,499.5 217,506.4 210.1,513.3 203.2,506.4" fill="none" stroke="#000" stroke-width="1.2"/>
<polygon points="225.7,546.4 232.6,553.3 225.7,560.2 218.8,553.3" fill="#fff"/><polygon points="225.7,546.4 225.7,546.4 225.7,560.2 225.7,560.2 218.8,553.3" fill="#000"/><polygon points="225.7,546.4 232.6,553.3 225.7,560.2 218.8,553.3" fill="none" stroke="#000" stroke-width="1.2"/>
<path d="M210.1,379.1V382.2M207.5,382.2H212.7" stroke="#000" stroke-width="1.2" fill="none"/>
<path d="M225.7,385.7V384.5M223.1,384.5H228.3" stroke="#000" stroke-width="1.2" fill="none"/>
<path d="M288.1,394.3V394.7M285.5,394.7H290.7" stroke="#000" stroke-width="1.2" fill="none"/>
<path d="M225.7,482V479.8M223.1,479.8H228.3" stroke="#000" stroke-width="1.2" fill="none"/>
<path d="M288.1,508.4V504M285.5,504H290.7" stroke="#000" stroke-width="1.2" fill="none"/>
<path d="M210.1,499.5V496.1M207.5,496.1H212.7" stroke="#000" stroke-width="1.2" fill="none"/>
<path d="M225.7,546.4V545.5M223.1,545.5H228.3" stroke="#000" stroke-width="1.2" fill="none"/>
<polygon points="287.5,581.4 288.45,583.69 290.92,583.89 289.04,585.5 289.62,587.91 287.5,586.62 285.38,587.91 285.96,585.5 284.08,583.89 286.55,583.69" fill="#333"/>
<path d="M221.7,420.8H227M244.5,420.8H249.1" stroke="#000" stroke-width="1.1"/>
<polygon points="230.3,415.6 240.7,415.6 240.7,426 230.3,426" fill="#fff"/><polygon points="230.3,415.6 240.7,415.6 240.7,426 230.3,426" fill="none" stroke="#000" stroke-width="1.2"/>
<g transform="translate(251.5,424.4) scale(1.022,1)" fill="#333" stroke="#333" stroke-width="0.35"><text x="0" y="0" style="font-size:11.8px">DI water</text></g>
<path d="M221.7,435.7H227M244.5,435.7H249.1" stroke="#000" stroke-width="1.1"/>
<polygon points="235.5,428.8 242.4,435.7 235.5,442.6 228.6,435.7" fill="#fff"/><polygon points="235.5,428.8 242.4,435.7 242.4,435.7 228.6,435.7 228.6,435.7" fill="#000"/><polygon points="235.5,428.8 242.4,435.7 235.5,442.6 228.6,435.7" fill="none" stroke="#000" stroke-width="1.2"/>
<g transform="translate(251.5,439.3) scale(0.979,1)" fill="#333" stroke="#333" stroke-width="0.35"><text x="0" y="0" style="font-size:11.8px"> % SH</text><path d="M823 0H643V1098Q578 1038 472 979T283 890V1057Q434 1124 547 1221T707 1409H823Z" transform="translate(0,0) scale(0.00576,-0.00576)" stroke-width="60.75"/></g>
<path d="M221.7,450.6H227M244.5,450.6H249.1" stroke="#000" stroke-width="1.1"/>
<polygon points="235.5,443.7 242.4,450.6 235.5,457.5 228.6,450.6" fill="#fff"/><polygon points="235.5,443.7 235.5,443.7 235.5,457.5 235.5,457.5 228.6,450.6" fill="#000"/><polygon points="235.5,443.7 242.4,450.6 235.5,457.5 228.6,450.6" fill="none" stroke="#000" stroke-width="1.2"/>
<g transform="translate(251.5,454.2) scale(0.96,1)" fill="#333" stroke="#333" stroke-width="0.35"><text x="0" y="0" style="font-size:11.8px">5% SH</text></g>
<line x1="343.1" y1="381.61" x2="343.75" y2="381.99" stroke="#000" stroke-width="1.0"/>
<line x1="360.13" y1="387.23" x2="406.14" y2="391.57" stroke="#000" stroke-width="1.0"/>
<line x1="323.5" y1="385.29" x2="331.58" y2="401.61" stroke="#1f911f" stroke-width="1.0"/>
<line x1="359.94" y1="405.3" x2="406.33" y2="416.1" stroke="#1f911f" stroke-width="1.0"/>
<line x1="322.61" y1="385.67" x2="332.47" y2="412.73" stroke="#ff0000" stroke-width="1.0"/>
<line x1="359.4" y1="430.39" x2="406.87" y2="451.61" stroke="#ff0000" stroke-width="1.0"/>
<line x1="323.27" y1="385.4" x2="331.81" y2="404" stroke="#0000a0" stroke-width="1.0"/>
<line x1="338.72" y1="420.18" x2="348.13" y2="443.92" stroke="#0000a0" stroke-width="1.0"/>
<line x1="359.43" y1="455.63" x2="406.84" y2="476.37" stroke="#0000a0" stroke-width="1.0"/>
<line x1="320.99" y1="386.09" x2="334.09" y2="467.81" stroke="#ff8800" stroke-width="1.0"/>
<line x1="341.36" y1="483.05" x2="345.49" y2="487.65" stroke="#ff8800" stroke-width="1.0"/>
<line x1="359.9" y1="496.36" x2="406.37" y2="508.14" stroke="#ff8800" stroke-width="1.0"/>
<polygon points="314.4,372.2 324.8,372.2 324.8,382.6 314.4,382.6" fill="#fff"/><polygon points="314.4,372.2 324.8,372.2 324.8,382.6 314.4,382.6" fill="none" stroke="#000" stroke-width="1.2"/>
<polygon points="330.28,372 340.68,372 340.68,382.4 330.28,382.4" fill="#fff"/><polygon points="330.28,372 340.68,372 340.68,382.4 330.28,382.4" fill="none" stroke="#000" stroke-width="1.2"/>
<polygon points="346.17,381.2 356.57,381.2 356.57,391.6 346.17,391.6" fill="#fff"/><polygon points="346.17,381.2 356.57,381.2 356.57,391.6 346.17,391.6" fill="none" stroke="#000" stroke-width="1.2"/>
<polygon points="409.7,387.2 420.1,387.2 420.1,397.6 409.7,397.6" fill="#fff"/><polygon points="409.7,387.2 420.1,387.2 420.1,397.6 409.7,397.6" fill="none" stroke="#000" stroke-width="1.2"/>
<polygon points="319.6,371.34 325.97,375.97 323.54,383.46 315.66,383.46 313.23,375.97" fill="#fff"/><polygon points="319.6,371.34 325.97,375.97 323.54,383.46 315.66,383.46 313.23,375.97" fill="none" stroke="#1f911f" stroke-width="1.2"/>
<polygon points="335.48,403.44 341.86,408.07 339.42,415.56 331.55,415.56 329.11,408.07" fill="#fff"/><polygon points="335.48,403.44 341.86,408.07 339.42,415.56 331.55,415.56 329.11,408.07" fill="none" stroke="#1f911f" stroke-width="1.2"/>
<polygon points="351.37,397.24 357.74,401.87 355.3,409.36 347.43,409.36 344.99,401.87" fill="#fff"/><polygon points="351.37,397.24 357.74,401.87 355.3,409.36 347.43,409.36 344.99,401.87" fill="none" stroke="#1f911f" stroke-width="1.2"/>
<polygon points="414.9,412.04 421.27,416.67 418.84,424.16 410.96,424.16 408.53,416.67" fill="#fff"/><polygon points="414.9,412.04 421.27,416.67 418.84,424.16 410.96,424.16 408.53,416.67" fill="none" stroke="#1f911f" stroke-width="1.2"/>
<polygon points="319.6,371.34 325.97,375.97 323.54,383.46 315.66,383.46 313.23,375.97" fill="#fff"/><polygon points="319.6,371.34 325.97,375.97 325.51,377.4 313.69,377.4 313.23,375.97" fill="#ff0000"/><polygon points="319.6,371.34 325.97,375.97 323.54,383.46 315.66,383.46 313.23,375.97" fill="none" stroke="#ff0000" stroke-width="1.2"/>
<polygon points="335.48,414.94 341.86,419.57 339.42,427.06 331.55,427.06 329.11,419.57" fill="#fff"/><polygon points="335.48,414.94 341.86,419.57 341.39,421 329.58,421 329.11,419.57" fill="#ff0000"/><polygon points="335.48,414.94 341.86,419.57 339.42,427.06 331.55,427.06 329.11,419.57" fill="none" stroke="#ff0000" stroke-width="1.2"/>
<polygon points="351.37,420.74 357.74,425.37 355.3,432.86 347.43,432.86 344.99,425.37" fill="#fff"/><polygon points="351.37,420.74 357.74,425.37 357.27,426.8 345.46,426.8 344.99,425.37" fill="#ff0000"/><polygon points="351.37,420.74 357.74,425.37 355.3,432.86 347.43,432.86 344.99,425.37" fill="none" stroke="#ff0000" stroke-width="1.2"/>
<polygon points="414.9,449.14 421.27,453.77 418.84,461.26 410.96,461.26 408.53,453.77" fill="#fff"/><polygon points="414.9,449.14 421.27,453.77 420.81,455.2 408.99,455.2 408.53,453.77" fill="#ff0000"/><polygon points="414.9,449.14 421.27,453.77 418.84,461.26 410.96,461.26 408.53,453.77" fill="none" stroke="#ff0000" stroke-width="1.2"/>
<polygon points="319.6,371.34 325.97,375.97 323.54,383.46 315.66,383.46 313.23,375.97" fill="#fff"/><polygon points="325.51,377.4 323.54,383.46 315.66,383.46 313.69,377.4" fill="#0000a0"/><polygon points="319.6,371.34 325.97,375.97 323.54,383.46 315.66,383.46 313.23,375.97" fill="none" stroke="#0000a0" stroke-width="1.2"/>
<polygon points="335.48,405.94 341.86,410.57 339.42,418.06 331.55,418.06 329.11,410.57" fill="#fff"/><polygon points="341.39,412 339.42,418.06 331.55,418.06 329.58,412" fill="#0000a0"/><polygon points="335.48,405.94 341.86,410.57 339.42,418.06 331.55,418.06 329.11,410.57" fill="none" stroke="#0000a0" stroke-width="1.2"/>
<polygon points="351.37,446.04 357.74,450.67 355.3,458.16 347.43,458.16 344.99,450.67" fill="#fff"/><polygon points="357.27,452.1 355.3,458.16 347.43,458.16 345.46,452.1" fill="#0000a0"/><polygon points="351.37,446.04 357.74,450.67 355.3,458.16 347.43,458.16 344.99,450.67" fill="none" stroke="#0000a0" stroke-width="1.2"/>
<polygon points="414.9,473.84 421.27,478.47 418.84,485.96 410.96,485.96 408.53,478.47" fill="#fff"/><polygon points="420.81,479.9 418.84,485.96 410.96,485.96 408.99,479.9" fill="#0000a0"/><polygon points="414.9,473.84 421.27,478.47 418.84,485.96 410.96,485.96 408.53,478.47" fill="none" stroke="#0000a0" stroke-width="1.2"/>
<polygon points="319.6,371.34 325.97,375.97 323.54,383.46 315.66,383.46 313.23,375.97" fill="#fff"/><polygon points="319.6,371.34 319.6,371.34 319.6,383.46 315.66,383.46 313.23,375.97" fill="#ff8800"/><polygon points="319.6,371.34 325.97,375.97 323.54,383.46 315.66,383.46 313.23,375.97" fill="none" stroke="#ff8800" stroke-width="1.2"/>
<polygon points="335.48,470.44 341.86,475.07 339.42,482.56 331.55,482.56 329.11,475.07" fill="#fff"/><polygon points="335.48,470.44 335.48,470.44 335.48,482.56 331.55,482.56 329.11,475.07" fill="#ff8800"/><polygon points="335.48,470.44 341.86,475.07 339.42,482.56 331.55,482.56 329.11,475.07" fill="none" stroke="#ff8800" stroke-width="1.2"/>
<polygon points="351.37,488.14 357.74,492.77 355.3,500.26 347.43,500.26 344.99,492.77" fill="#fff"/><polygon points="351.37,488.14 351.37,488.14 351.37,500.26 347.43,500.26 344.99,492.77" fill="#ff8800"/><polygon points="351.37,488.14 357.74,492.77 355.3,500.26 347.43,500.26 344.99,492.77" fill="none" stroke="#ff8800" stroke-width="1.2"/>
<polygon points="414.9,504.24 421.27,508.87 418.84,516.36 410.96,516.36 408.53,508.87" fill="#fff"/><polygon points="414.9,504.24 414.9,504.24 414.9,516.36 410.96,516.36 408.53,508.87" fill="#ff8800"/><polygon points="414.9,504.24 421.27,508.87 418.84,516.36 410.96,516.36 408.53,508.87" fill="none" stroke="#ff8800" stroke-width="1.2"/>
<path d="M351.37,381.2V380.3M348.77,380.3H353.97" stroke="#000" stroke-width="1.2" fill="none"/>
<path d="M414.9,387.2V384.3M412.3,384.3H417.5" stroke="#000" stroke-width="1.2" fill="none"/>
<path d="M351.37,397.24V399M348.77,399H353.97" stroke="#1f911f" stroke-width="1.2" fill="none"/>
<path d="M335.48,414.94V416M332.88,416H338.08" stroke="#ff0000" stroke-width="1.2" fill="none"/>
<path d="M351.37,420.74V419M348.77,419H353.97" stroke="#ff0000" stroke-width="1.2" fill="none"/>
<path d="M351.37,446.04V444M348.77,444H353.97" stroke="#0000a0" stroke-width="1.2" fill="none"/>
<path d="M321.2,524.2H326.5M344,524.2H348.6" stroke="#000" stroke-width="1.1"/>
<polygon points="329.8,519 340.2,519 340.2,529.4 329.8,529.4" fill="#fff"/><polygon points="329.8,519 340.2,519 340.2,529.4 329.8,529.4" fill="none" stroke="#000" stroke-width="1.2"/>
<g transform="translate(351.2,527.8) scale(1.022,1)" fill="#333" stroke="#333" stroke-width="0.35"><text x="0" y="0" style="font-size:11.8px">DI water</text></g>
<path d="M321.2,538.8H326.5M344,538.8H348.6" stroke="#1f911f" stroke-width="1.1"/>
<polygon points="335,532.74 341.37,537.37 338.94,544.86 331.06,544.86 328.63,537.37" fill="#fff"/><polygon points="335,532.74 341.37,537.37 338.94,544.86 331.06,544.86 328.63,537.37" fill="none" stroke="#1f911f" stroke-width="1.2"/>
<g transform="translate(351.2,542.4) scale(0.93,1)" fill="#333" stroke="#333" stroke-width="0.35"><text x="0" y="0" style="font-size:11.8px">E30</text></g>
<path d="M321.2,553.4H326.5M344,553.4H348.6" stroke="#ff0000" stroke-width="1.1"/>
<polygon points="335,547.34 341.37,551.97 338.94,559.46 331.06,559.46 328.63,551.97" fill="#fff"/><polygon points="335,547.34 341.37,551.97 340.91,553.4 329.09,553.4 328.63,551.97" fill="#ff0000"/><polygon points="335,547.34 341.37,551.97 338.94,559.46 331.06,559.46 328.63,551.97" fill="none" stroke="#ff0000" stroke-width="1.2"/>
<g transform="translate(351.2,557) scale(1.007,1)" fill="#333" stroke="#333" stroke-width="0.35"><text x="0" y="0" style="font-size:11.8px">E30S5</text></g>
<path d="M321.2,568H326.5M344,568H348.6" stroke="#0000a0" stroke-width="1.1"/>
<polygon points="335,561.94 341.37,566.57 338.94,574.06 331.06,574.06 328.63,566.57" fill="#fff"/><polygon points="340.91,568 338.94,574.06 331.06,574.06 329.09,568" fill="#0000a0"/><polygon points="335,561.94 341.37,566.57 338.94,574.06 331.06,574.06 328.63,566.57" fill="none" stroke="#0000a0" stroke-width="1.2"/>
<g transform="translate(351.2,571.6) scale(1.003,1)" fill="#333" stroke="#333" stroke-width="0.35"><text x="0" y="0" style="font-size:11.8px">E30S 0</text><path d="M823 0H643V1098Q578 1038 472 979T283 890V1057Q434 1124 547 1221T707 1409H823Z" transform="translate(28.87,0) scale(0.00576,-0.00576)" stroke-width="60.75"/></g>
<path d="M321.2,582.6H326.5M344,582.6H348.6" stroke="#ff8800" stroke-width="1.1"/>
<polygon points="335,576.54 341.37,581.17 338.94,588.66 331.06,588.66 328.63,581.17" fill="#fff"/><polygon points="335,576.54 335,576.54 335,588.66 331.06,588.66 328.63,581.17" fill="#ff8800"/><polygon points="335,576.54 341.37,581.17 338.94,588.66 331.06,588.66 328.63,581.17" fill="none" stroke="#ff8800" stroke-width="1.2"/>
<g transform="translate(351.2,586.2) scale(1.004,1)" fill="#333" stroke="#333" stroke-width="0.35"><text x="0" y="0" style="font-size:11.8px">E30S 5</text><path d="M823 0H643V1098Q578 1038 472 979T283 890V1057Q434 1124 547 1221T707 1409H823Z" transform="translate(28.87,0) scale(0.00576,-0.00576)" stroke-width="60.75"/></g>
<line x1="466.19" y1="381.43" x2="468.16" y2="382.47" stroke="#000" stroke-width="1.0"/>
<line x1="484.7" y1="387.31" x2="537.23" y2="391.59" stroke="#000" stroke-width="1.0"/>
<line x1="442.52" y1="386.15" x2="456.8" y2="462.65" stroke="#1f911f" stroke-width="1.0"/>
<line x1="464.02" y1="478.08" x2="470.33" y2="485.72" stroke="#1f911f" stroke-width="1.0"/>
<line x1="484.39" y1="494.95" x2="537.55" y2="510.35" stroke="#1f911f" stroke-width="1.0"/>
<line x1="442.32" y1="386.19" x2="457" y2="476.11" stroke="#ff0000" stroke-width="1.0"/>
<line x1="465.39" y1="490.17" x2="468.96" y2="492.93" stroke="#ff0000" stroke-width="1.0"/>
<line x1="484.58" y1="499.95" x2="537.36" y2="510.05" stroke="#ff0000" stroke-width="1.0"/>
<line x1="442.22" y1="386.2" x2="457.1" y2="484.3" stroke="#0000a0" stroke-width="1.0"/>
<line x1="464.91" y1="498.93" x2="469.44" y2="503.07" stroke="#0000a0" stroke-width="1.0"/>
<line x1="484.45" y1="511.22" x2="537.49" y2="525.08" stroke="#0000a0" stroke-width="1.0"/>
<line x1="442.19" y1="386.2" x2="457.13" y2="486.9" stroke="#ff8800" stroke-width="1.0"/>
<line x1="462.09" y1="503.6" x2="472.26" y2="525.7" stroke="#ff8800" stroke-width="1.0"/>
<polygon points="435.7,372.3 446.1,372.3 446.1,382.7 435.7,382.7" fill="#fff"/><polygon points="435.7,372.3 446.1,372.3 446.1,382.7 435.7,382.7" fill="none" stroke="#000" stroke-width="1.2"/>
<polygon points="453.22,372.1 463.62,372.1 463.62,382.5 453.22,382.5" fill="#fff"/><polygon points="453.22,372.1 463.62,372.1 463.62,382.5 453.22,382.5" fill="none" stroke="#000" stroke-width="1.2"/>
<polygon points="470.73,381.4 481.13,381.4 481.13,391.8 470.73,391.8" fill="#fff"/><polygon points="470.73,381.4 481.13,381.4 481.13,391.8 470.73,391.8" fill="none" stroke="#000" stroke-width="1.2"/>
<polygon points="540.8,387.1 551.2,387.1 551.2,397.5 540.8,397.5" fill="#fff"/><polygon points="540.8,387.1 551.2,387.1 551.2,397.5 540.8,397.5" fill="none" stroke="#000" stroke-width="1.2"/>
<polygon points="440.9,370.8 446.7,374.15 446.7,380.85 440.9,384.2 435.1,380.85 435.1,374.15" fill="#fff"/><polygon points="440.9,370.8 446.7,374.15 446.7,380.85 440.9,384.2 435.1,380.85 435.1,374.15" fill="none" stroke="#1f911f" stroke-width="1.2"/>
<polygon points="458.42,464.6 464.22,467.95 464.22,474.65 458.42,478 452.61,474.65 452.61,467.95" fill="#fff"/><polygon points="458.42,464.6 464.22,467.95 464.22,474.65 458.42,478 452.61,474.65 452.61,467.95" fill="none" stroke="#1f911f" stroke-width="1.2"/>
<polygon points="475.93,485.8 481.74,489.15 481.74,495.85 475.93,499.2 470.13,495.85 470.13,489.15" fill="#fff"/><polygon points="475.93,485.8 481.74,489.15 481.74,495.85 475.93,499.2 470.13,495.85 470.13,489.15" fill="none" stroke="#1f911f" stroke-width="1.2"/>
<polygon points="546,506.1 551.8,509.45 551.8,516.15 546,519.5 540.2,516.15 540.2,509.45" fill="#fff"/><polygon points="546,506.1 551.8,509.45 551.8,516.15 546,519.5 540.2,516.15 540.2,509.45" fill="none" stroke="#1f911f" stroke-width="1.2"/>
<polygon points="440.9,370.8 446.7,374.15 446.7,380.85 440.9,384.2 435.1,380.85 435.1,374.15" fill="#fff"/><polygon points="440.9,370.8 446.7,374.15 446.7,377.5 435.1,377.5 435.1,374.15" fill="#ff0000"/><polygon points="440.9,370.8 446.7,374.15 446.7,380.85 440.9,384.2 435.1,380.85 435.1,374.15" fill="none" stroke="#ff0000" stroke-width="1.2"/>
<polygon points="458.42,478.1 464.22,481.45 464.22,488.15 458.42,491.5 452.61,488.15 452.61,481.45" fill="#fff"/><polygon points="458.42,478.1 464.22,481.45 464.22,484.8 452.61,484.8 452.61,481.45" fill="#ff0000"/><polygon points="458.42,478.1 464.22,481.45 464.22,488.15 458.42,491.5 452.61,488.15 452.61,481.45" fill="none" stroke="#ff0000" stroke-width="1.2"/>
<polygon points="475.93,491.6 481.74,494.95 481.74,501.65 475.93,505 470.13,501.65 470.13,494.95" fill="#fff"/><polygon points="475.93,491.6 481.74,494.95 481.74,498.3 470.13,498.3 470.13,494.95" fill="#ff0000"/><polygon points="475.93,491.6 481.74,494.95 481.74,501.65 475.93,505 470.13,501.65 470.13,494.95" fill="none" stroke="#ff0000" stroke-width="1.2"/>
<polygon points="546,505 551.8,508.35 551.8,515.05 546,518.4 540.2,515.05 540.2,508.35" fill="#fff"/><polygon points="546,505 551.8,508.35 551.8,511.7 540.2,511.7 540.2,508.35" fill="#ff0000"/><polygon points="546,505 551.8,508.35 551.8,515.05 546,518.4 540.2,515.05 540.2,508.35" fill="none" stroke="#ff0000" stroke-width="1.2"/>
<polygon points="440.9,370.8 446.7,374.15 446.7,380.85 440.9,384.2 435.1,380.85 435.1,374.15" fill="#fff"/><polygon points="446.7,377.5 446.7,380.85 440.9,384.2 435.1,380.85 435.1,377.5" fill="#0000a0"/><polygon points="440.9,370.8 446.7,374.15 446.7,380.85 440.9,384.2 435.1,380.85 435.1,374.15" fill="none" stroke="#0000a0" stroke-width="1.2"/>
<polygon points="458.42,486.3 464.22,489.65 464.22,496.35 458.42,499.7 452.61,496.35 452.61,489.65" fill="#fff"/><polygon points="464.22,493 464.22,496.35 458.42,499.7 452.61,496.35 452.61,493" fill="#0000a0"/><polygon points="458.42,486.3 464.22,489.65 464.22,496.35 458.42,499.7 452.61,496.35 452.61,489.65" fill="none" stroke="#0000a0" stroke-width="1.2"/>
<polygon points="475.93,502.3 481.74,505.65 481.74,512.35 475.93,515.7 470.13,512.35 470.13,505.65" fill="#fff"/><polygon points="481.74,509 481.74,512.35 475.93,515.7 470.13,512.35 470.13,509" fill="#0000a0"/><polygon points="475.93,502.3 481.74,505.65 481.74,512.35 475.93,515.7 470.13,512.35 470.13,505.65" fill="none" stroke="#0000a0" stroke-width="1.2"/>
<polygon points="546,520.6 551.8,523.95 551.8,530.65 546,534 540.2,530.65 540.2,523.95" fill="#fff"/><polygon points="551.8,527.3 551.8,530.65 546,534 540.2,530.65 540.2,527.3" fill="#0000a0"/><polygon points="546,520.6 551.8,523.95 551.8,530.65 546,534 540.2,530.65 540.2,523.95" fill="none" stroke="#0000a0" stroke-width="1.2"/>
<polygon points="440.9,370.8 446.7,374.15 446.7,380.85 440.9,384.2 435.1,380.85 435.1,374.15" fill="#fff"/><polygon points="440.9,370.8 440.9,370.8 440.9,384.2 440.9,384.2 435.1,380.85 435.1,374.15" fill="#ff8800"/><polygon points="440.9,370.8 446.7,374.15 446.7,380.85 440.9,384.2 435.1,380.85 435.1,374.15" fill="none" stroke="#ff8800" stroke-width="1.2"/>
<polygon points="458.42,488.9 464.22,492.25 464.22,498.95 458.42,502.3 452.61,498.95 452.61,492.25" fill="#fff"/><polygon points="458.42,488.9 458.42,488.9 458.42,502.3 458.42,502.3 452.61,498.95 452.61,492.25" fill="#ff8800"/><polygon points="458.42,488.9 464.22,492.25 464.22,498.95 458.42,502.3 452.61,498.95 452.61,492.25" fill="none" stroke="#ff8800" stroke-width="1.2"/>
<polygon points="475.93,527 481.74,530.35 481.74,537.05 475.93,540.4 470.13,537.05 470.13,530.35" fill="#fff"/><polygon points="475.93,527 475.93,527 475.93,540.4 475.93,540.4 470.13,537.05 470.13,530.35" fill="#ff8800"/><polygon points="475.93,527 481.74,530.35 481.74,537.05 475.93,540.4 470.13,537.05 470.13,530.35" fill="none" stroke="#ff8800" stroke-width="1.2"/>
<path d="M475.93,381.4V380.6M473.33,380.6H478.53" stroke="#000" stroke-width="1.2" fill="none"/>
<path d="M546,387.1V384.3M543.4,384.3H548.6" stroke="#000" stroke-width="1.2" fill="none"/>
<path d="M475.93,527V524.3M473.33,524.3H478.53" stroke="#ff8800" stroke-width="1.2" fill="none"/>
<polygon points="546,580.9 546.82,582.87 548.95,583.04 547.33,584.43 547.82,586.51 546,585.39 544.18,586.51 544.67,584.43 543.05,583.04 545.18,582.87" fill="#ff8800"/>
<path d="M473.8,418.5H479.1M496.6,418.5H501.2" stroke="#000" stroke-width="1.1"/>
<polygon points="482.4,413.3 492.8,413.3 492.8,423.7 482.4,423.7" fill="#fff"/><polygon points="482.4,413.3 492.8,413.3 492.8,423.7 482.4,423.7" fill="none" stroke="#000" stroke-width="1.2"/>
<g transform="translate(503.8,422.1) scale(1.022,1)" fill="#333" stroke="#333" stroke-width="0.35"><text x="0" y="0" style="font-size:11.8px">DI water</text></g>
<path d="M473.8,433.2H479.1M496.6,433.2H501.2" stroke="#1f911f" stroke-width="1.1"/>
<polygon points="487.6,426.5 493.4,429.85 493.4,436.55 487.6,439.9 481.8,436.55 481.8,429.85" fill="#fff"/><polygon points="487.6,426.5 493.4,429.85 493.4,436.55 487.6,439.9 481.8,436.55 481.8,429.85" fill="none" stroke="#1f911f" stroke-width="1.2"/>
<g transform="translate(503.8,436.8) scale(0.956,1)" fill="#333" stroke="#333" stroke-width="0.35"><text x="0" y="0" style="font-size:11.8px">E60</text></g>
<path d="M473.8,447.9H479.1M496.6,447.9H501.2" stroke="#ff0000" stroke-width="1.1"/>
<polygon points="487.6,441.2 493.4,444.55 493.4,451.25 487.6,454.6 481.8,451.25 481.8,444.55" fill="#fff"/><polygon points="487.6,441.2 493.4,444.55 493.4,447.9 481.8,447.9 481.8,444.55" fill="#ff0000"/><polygon points="487.6,441.2 493.4,444.55 493.4,451.25 487.6,454.6 481.8,451.25 481.8,444.55" fill="none" stroke="#ff0000" stroke-width="1.2"/>
<g transform="translate(503.8,451.5) scale(1.011,1)" fill="#333" stroke="#333" stroke-width="0.35"><text x="0" y="0" style="font-size:11.8px">E60S2.5</text></g>
<path d="M473.8,462.6H479.1M496.6,462.6H501.2" stroke="#0000a0" stroke-width="1.1"/>
<polygon points="487.6,455.9 493.4,459.25 493.4,465.95 487.6,469.3 481.8,465.95 481.8,459.25" fill="#fff"/><polygon points="493.4,462.6 493.4,465.95 487.6,469.3 481.8,465.95 481.8,462.6" fill="#0000a0"/><polygon points="487.6,455.9 493.4,459.25 493.4,465.95 487.6,469.3 481.8,465.95 481.8,459.25" fill="none" stroke="#0000a0" stroke-width="1.2"/>
<g transform="translate(503.8,466.2) scale(0.995,1)" fill="#333" stroke="#333" stroke-width="0.35"><text x="0" y="0" style="font-size:11.8px">E60S5</text></g>
<path d="M473.8,477.3H479.1M496.6,477.3H501.2" stroke="#ff8800" stroke-width="1.1"/>
<polygon points="487.6,470.6 493.4,473.95 493.4,480.65 487.6,484 481.8,480.65 481.8,473.95" fill="#fff"/><polygon points="487.6,470.6 487.6,470.6 487.6,484 487.6,484 481.8,480.65 481.8,473.95" fill="#ff8800"/><polygon points="487.6,470.6 493.4,473.95 493.4,480.65 487.6,484 481.8,480.65 481.8,473.95" fill="none" stroke="#ff8800" stroke-width="1.2"/>
<g transform="translate(503.8,480.9) scale(1.011,1)" fill="#333" stroke="#333" stroke-width="0.35"><text x="0" y="0" style="font-size:11.8px">E60S 0</text><path d="M823 0H643V1098Q578 1038 472 979T283 890V1057Q434 1124 547 1221T707 1409H823Z" transform="translate(28.87,0) scale(0.00576,-0.00576)" stroke-width="60.75"/></g>
<line x1="592.69" y1="381.43" x2="594.66" y2="382.47" stroke="#000" stroke-width="1.0"/>
<line x1="611.2" y1="387.31" x2="663.73" y2="391.59" stroke="#000" stroke-width="1.0"/>
<line x1="568.57" y1="386.72" x2="583.75" y2="499.78" stroke="#1f911f" stroke-width="1.0"/>
<line x1="591.89" y1="513.87" x2="595.46" y2="516.63" stroke="#1f911f" stroke-width="1.0"/>
<line x1="568.51" y1="386.73" x2="583.81" y2="507.27" stroke="#ff0000" stroke-width="1.0"/>
<line x1="591.49" y1="521.85" x2="595.86" y2="525.75" stroke="#ff0000" stroke-width="1.0"/>
<line x1="568.49" y1="386.73" x2="583.83" y2="509.67" stroke="#0000a0" stroke-width="1.0"/>
<line x1="588.82" y1="526.29" x2="598.53" y2="545.91" stroke="#0000a0" stroke-width="1.0"/>
<line x1="568.46" y1="386.74" x2="583.86" y2="513.56" stroke="#ff8800" stroke-width="1.0"/>
<polygon points="562.2,372.8 572.6,372.8 572.6,383.2 562.2,383.2" fill="#fff"/><polygon points="562.2,372.8 572.6,372.8 572.6,383.2 562.2,383.2" fill="none" stroke="#000" stroke-width="1.2"/>
<polygon points="579.72,372.1 590.12,372.1 590.12,382.5 579.72,382.5" fill="#fff"/><polygon points="579.72,372.1 590.12,372.1 590.12,382.5 579.72,382.5" fill="none" stroke="#000" stroke-width="1.2"/>
<polygon points="597.23,381.4 607.63,381.4 607.63,391.8 597.23,391.8" fill="#fff"/><polygon points="597.23,381.4 607.63,381.4 607.63,391.8 597.23,391.8" fill="none" stroke="#000" stroke-width="1.2"/>
<polygon points="667.3,387.1 677.7,387.1 677.7,397.5 667.3,397.5" fill="#fff"/><polygon points="667.3,387.1 677.7,387.1 677.7,397.5 667.3,397.5" fill="none" stroke="#000" stroke-width="1.2"/>
<circle cx="567.4" cy="378" r="5.8" fill="#fff"/><circle cx="567.4" cy="378" r="5.8" fill="none" stroke="#1f911f" stroke-width="1.2"/>
<circle cx="584.92" cy="508.5" r="5.8" fill="#fff"/><circle cx="584.92" cy="508.5" r="5.8" fill="none" stroke="#1f911f" stroke-width="1.2"/>
<circle cx="602.43" cy="522" r="5.8" fill="#fff"/><circle cx="602.43" cy="522" r="5.8" fill="none" stroke="#1f911f" stroke-width="1.2"/>
<circle cx="567.4" cy="378" r="5.8" fill="#fff"/><path d="M561.6,378 A5.8,5.8 0 0 1 573.2,378 Z" fill="#ff0000"/><circle cx="567.4" cy="378" r="5.8" fill="none" stroke="#ff0000" stroke-width="1.2"/>
<circle cx="584.92" cy="516" r="5.8" fill="#fff"/><path d="M579.12,516 A5.8,5.8 0 0 1 590.72,516 Z" fill="#ff0000"/><circle cx="584.92" cy="516" r="5.8" fill="none" stroke="#ff0000" stroke-width="1.2"/>
<circle cx="602.43" cy="531.6" r="5.8" fill="#fff"/><path d="M596.63,531.6 A5.8,5.8 0 0 1 608.23,531.6 Z" fill="#ff0000"/><circle cx="602.43" cy="531.6" r="5.8" fill="none" stroke="#ff0000" stroke-width="1.2"/>
<circle cx="567.4" cy="378" r="5.8" fill="#fff"/><path d="M561.6,378 A5.8,5.8 0 0 0 573.2,378 Z" fill="#0000a0"/><circle cx="567.4" cy="378" r="5.8" fill="none" stroke="#0000a0" stroke-width="1.2"/>
<circle cx="584.92" cy="518.4" r="5.8" fill="#fff"/><path d="M579.12,518.4 A5.8,5.8 0 0 0 590.72,518.4 Z" fill="#0000a0"/><circle cx="584.92" cy="518.4" r="5.8" fill="none" stroke="#0000a0" stroke-width="1.2"/>
<circle cx="602.43" cy="553.8" r="5.8" fill="#fff"/><path d="M596.63,553.8 A5.8,5.8 0 0 0 608.23,553.8 Z" fill="#0000a0"/><circle cx="602.43" cy="553.8" r="5.8" fill="none" stroke="#0000a0" stroke-width="1.2"/>
<circle cx="567.4" cy="378" r="5.8" fill="#fff"/><path d="M567.4,372.2 A5.8,5.8 0 0 0 567.4,383.8 Z" fill="#ff8800"/><circle cx="567.4" cy="378" r="5.8" fill="none" stroke="#ff8800" stroke-width="1.2"/>
<circle cx="584.92" cy="522.3" r="5.8" fill="#fff"/><path d="M584.92,516.5 A5.8,5.8 0 0 0 584.92,528.1 Z" fill="#ff8800"/><circle cx="584.92" cy="522.3" r="5.8" fill="none" stroke="#ff8800" stroke-width="1.2"/>
<path d="M602.43,381.4V380.6M599.83,380.6H605.03" stroke="#000" stroke-width="1.2" fill="none"/>
<path d="M672.5,387.1V384.3M669.9,384.3H675.1" stroke="#000" stroke-width="1.2" fill="none"/>
<path d="M584.92,502.7V501.3M582.32,501.3H587.52" stroke="#1f911f" stroke-width="1.2" fill="none"/>
<path d="M584.92,510.2V509.9M582.32,509.9H587.52" stroke="#ff0000" stroke-width="1.2" fill="none"/>
<path d="M602.43,548V541.5M599.83,541.5H605.03" stroke="#0000a0" stroke-width="1.2" fill="none"/>
<polygon points="670.9,550.4 671.72,552.37 673.85,552.54 672.23,553.93 672.72,556.01 670.9,554.89 669.08,556.01 669.57,553.93 667.95,552.54 670.08,552.37" fill="#1f911f"/>
<polygon points="670.9,560.2 671.72,562.17 673.85,562.34 672.23,563.73 672.72,565.81 670.9,564.69 669.08,565.81 669.57,563.73 667.95,562.34 670.08,562.17" fill="#ff0000"/>
<polygon points="670.9,571.1 671.72,573.07 673.85,573.24 672.23,574.63 672.72,576.71 670.9,575.6 669.08,576.71 669.57,574.63 667.95,573.24 670.08,573.07" fill="#0000a0"/>
<polygon points="601.43,581.9 602.25,583.87 604.38,584.04 602.76,585.43 603.26,587.51 601.43,586.39 599.61,587.51 600.11,585.43 598.49,584.04 600.61,583.87" fill="#ff8800"/>
<polygon points="670.9,581.7 671.72,583.67 673.85,583.84 672.23,585.23 672.72,587.31 670.9,586.19 669.08,587.31 669.57,585.23 667.95,583.84 670.08,583.67" fill="#ff8800"/>
<path d="M598,426.1H603.3M620.8,426.1H625.4" stroke="#000" stroke-width="1.1"/>
<polygon points="606.6,420.9 617,420.9 617,431.3 606.6,431.3" fill="#fff"/><polygon points="606.6,420.9 617,420.9 617,431.3 606.6,431.3" fill="none" stroke="#000" stroke-width="1.2"/>
<g transform="translate(627.3,429.7) scale(1.022,1)" fill="#333" stroke="#333" stroke-width="0.35"><text x="0" y="0" style="font-size:11.8px">DI water</text></g>
<path d="M598,440.9H603.3M620.8,440.9H625.4" stroke="#1f911f" stroke-width="1.1"/>
<circle cx="611.8" cy="440.9" r="5.8" fill="#fff"/><circle cx="611.8" cy="440.9" r="5.8" fill="none" stroke="#1f911f" stroke-width="1.2"/>
<g transform="translate(627.3,444.5) scale(0.884,1)" fill="#333" stroke="#333" stroke-width="0.35"><text x="0" y="0" style="font-size:11.8px">E 70</text></g>
<path d="M598,455.7H603.3M620.8,455.7H625.4" stroke="#ff0000" stroke-width="1.1"/>
<circle cx="611.8" cy="455.7" r="5.8" fill="#fff"/><path d="M606,455.7 A5.8,5.8 0 0 1 617.6,455.7 Z" fill="#ff0000"/><circle cx="611.8" cy="455.7" r="5.8" fill="none" stroke="#ff0000" stroke-width="1.2"/>
<g transform="translate(627.3,459.3) scale(0.963,1)" fill="#333" stroke="#333" stroke-width="0.35"><text x="0" y="0" style="font-size:11.8px">E 70S </text><path d="M823 0H643V1098Q578 1038 472 979T283 890V1057Q434 1124 547 1221T707 1409H823Z" transform="translate(32.14,0) scale(0.00576,-0.00576)" stroke-width="60.75"/></g>
<path d="M598,470.5H603.3M620.8,470.5H625.4" stroke="#0000a0" stroke-width="1.1"/>
<circle cx="611.8" cy="470.5" r="5.8" fill="#fff"/><path d="M606,470.5 A5.8,5.8 0 0 0 617.6,470.5 Z" fill="#0000a0"/><circle cx="611.8" cy="470.5" r="5.8" fill="none" stroke="#0000a0" stroke-width="1.2"/>
<g transform="translate(627.3,474.1) scale(0.958,1)" fill="#333" stroke="#333" stroke-width="0.35"><text x="0" y="0" style="font-size:11.8px">E 70S2.5</text></g>
<path d="M598,485.3H603.3M620.8,485.3H625.4" stroke="#ff8800" stroke-width="1.1"/>
<circle cx="611.8" cy="485.3" r="5.8" fill="#fff"/><path d="M611.8,479.5 A5.8,5.8 0 0 0 611.8,491.1 Z" fill="#ff8800"/><circle cx="611.8" cy="485.3" r="5.8" fill="none" stroke="#ff8800" stroke-width="1.2"/>
<g transform="translate(627.3,488.9) scale(0.948,1)" fill="#333" stroke="#333" stroke-width="0.35"><text x="0" y="0" style="font-size:11.8px">E 70S5</text></g>
<g transform="translate(61.4,616.5)" fill="#333" stroke="#333" stroke-width="0.35"><text x="-4.17" y="0" style="font-size:15px">0</text></g>
<g transform="translate(96.37,616.5)" fill="#333" stroke="#333" stroke-width="0.35"><text x="-8.34" y="0" style="font-size:15px"> 0</text><path d="M823 0H643V1098Q578 1038 472 979T283 890V1057Q434 1124 547 1221T707 1409H823Z" transform="translate(-8.34,0) scale(0.00732,-0.00732)" stroke-width="47.79"/></g>
<g transform="translate(131.33,616.5)" fill="#333" stroke="#333" stroke-width="0.35"><text x="-8.34" y="0" style="font-size:15px">20</text></g>
<g transform="translate(166.3,616.5)" fill="#333" stroke="#333" stroke-width="0.35"><text x="-8.34" y="0" style="font-size:15px">30</text></g>
<g transform="translate(193.7,616.5)" fill="#333" stroke="#333" stroke-width="0.35"><text x="-4.17" y="0" style="font-size:15px">0</text></g>
<g transform="translate(224.9,616.5)" fill="#333" stroke="#333" stroke-width="0.35"><text x="-8.34" y="0" style="font-size:15px"> 0</text><path d="M823 0H643V1098Q578 1038 472 979T283 890V1057Q434 1124 547 1221T707 1409H823Z" transform="translate(-8.34,0) scale(0.00732,-0.00732)" stroke-width="47.79"/></g>
<g transform="translate(256.1,616.5)" fill="#333" stroke="#333" stroke-width="0.35"><text x="-8.34" y="0" style="font-size:15px">20</text></g>
<g transform="translate(287.3,616.5)" fill="#333" stroke="#333" stroke-width="0.35"><text x="-8.34" y="0" style="font-size:15px">30</text></g>
<g transform="translate(318.8,616.5)" fill="#333" stroke="#333" stroke-width="0.35"><text x="-4.17" y="0" style="font-size:15px">0</text></g>
<g transform="translate(350.57,616.5)" fill="#333" stroke="#333" stroke-width="0.35"><text x="-8.34" y="0" style="font-size:15px"> 0</text><path d="M823 0H643V1098Q578 1038 472 979T283 890V1057Q434 1124 547 1221T707 1409H823Z" transform="translate(-8.34,0) scale(0.00732,-0.00732)" stroke-width="47.79"/></g>
<g transform="translate(382.33,616.5)" fill="#333" stroke="#333" stroke-width="0.35"><text x="-8.34" y="0" style="font-size:15px">20</text></g>
<g transform="translate(414.1,616.5)" fill="#333" stroke="#333" stroke-width="0.35"><text x="-8.34" y="0" style="font-size:15px">30</text></g>
<g transform="translate(440.1,616.5)" fill="#333" stroke="#333" stroke-width="0.35"><text x="-4.17" y="0" style="font-size:15px">0</text></g>
<g transform="translate(475.13,616.5)" fill="#333" stroke="#333" stroke-width="0.35"><text x="-8.34" y="0" style="font-size:15px"> 0</text><path d="M823 0H643V1098Q578 1038 472 979T283 890V1057Q434 1124 547 1221T707 1409H823Z" transform="translate(-8.34,0) scale(0.00732,-0.00732)" stroke-width="47.79"/></g>
<g transform="translate(510.17,616.5)" fill="#333" stroke="#333" stroke-width="0.35"><text x="-8.34" y="0" style="font-size:15px">20</text></g>
<g transform="translate(545.2,616.5)" fill="#333" stroke="#333" stroke-width="0.35"><text x="-8.34" y="0" style="font-size:15px">30</text></g>
<g transform="translate(566.6,616.5)" fill="#333" stroke="#333" stroke-width="0.35"><text x="-4.17" y="0" style="font-size:15px">0</text></g>
<g transform="translate(601.63,616.5)" fill="#333" stroke="#333" stroke-width="0.35"><text x="-8.34" y="0" style="font-size:15px"> 0</text><path d="M823 0H643V1098Q578 1038 472 979T283 890V1057Q434 1124 547 1221T707 1409H823Z" transform="translate(-8.34,0) scale(0.00732,-0.00732)" stroke-width="47.79"/></g>
<g transform="translate(636.67,616.5)" fill="#333" stroke="#333" stroke-width="0.35"><text x="-8.34" y="0" style="font-size:15px">20</text></g>
<g transform="translate(671.7,616.5)" fill="#333" stroke="#333" stroke-width="0.35"><text x="-8.34" y="0" style="font-size:15px">30</text></g>
<g transform="translate(39.2,604.7)" fill="#333" stroke="#333" stroke-width="0.35"><text x="-16.68" y="0" style="font-size:15px"> 0</text><path d="M823 0H643V1098Q578 1038 472 979T283 890V1057Q434 1124 547 1221T707 1409H823Z" transform="translate(-16.68,0) scale(0.00732,-0.00732)" stroke-width="47.79"/></g>
<g transform="translate(38.9,599.2)" fill="#333" stroke="#333" stroke-width="0.35"><text x="0" y="0" style="font-size:10.5px">0</text></g>
<g transform="translate(39.2,574.55)" fill="#333" stroke="#333" stroke-width="0.35"><text x="-16.68" y="0" style="font-size:15px"> 0</text><path d="M823 0H643V1098Q578 1038 472 979T283 890V1057Q434 1124 547 1221T707 1409H823Z" transform="translate(-16.68,0) scale(0.00732,-0.00732)" stroke-width="47.79"/></g>
<g transform="translate(38.9,569.05)" fill="#333" stroke="#333" stroke-width="0.35"><text x="0" y="0" style="font-size:10.5px"> </text><path d="M823 0H643V1098Q578 1038 472 979T283 890V1057Q434 1124 547 1221T707 1409H823Z" transform="translate(0,0) scale(0.00513,-0.00513)" stroke-width="68.27"/></g>
<g transform="translate(39.2,544.4)" fill="#333" stroke="#333" stroke-width="0.35"><text x="-16.68" y="0" style="font-size:15px"> 0</text><path d="M823 0H643V1098Q578 1038 472 979T283 890V1057Q434 1124 547 1221T707 1409H823Z" transform="translate(-16.68,0) scale(0.00732,-0.00732)" stroke-width="47.79"/></g>
<g transform="translate(38.9,538.9)" fill="#333" stroke="#333" stroke-width="0.35"><text x="0" y="0" style="font-size:10.5px">2</text></g>
<g transform="translate(39.2,514.25)" fill="#333" stroke="#333" stroke-width="0.35"><text x="-16.68" y="0" style="font-size:15px"> 0</text><path d="M823 0H643V1098Q578 1038 472 979T283 890V1057Q434 1124 547 1221T707 1409H823Z" transform="translate(-16.68,0) scale(0.00732,-0.00732)" stroke-width="47.79"/></g>
<g transform="translate(38.9,508.75)" fill="#333" stroke="#333" stroke-width="0.35"><text x="0" y="0" style="font-size:10.5px">3</text></g>
<g transform="translate(39.2,484.1)" fill="#333" stroke="#333" stroke-width="0.35"><text x="-16.68" y="0" style="font-size:15px"> 0</text><path d="M823 0H643V1098Q578 1038 472 979T283 890V1057Q434 1124 547 1221T707 1409H823Z" transform="translate(-16.68,0) scale(0.00732,-0.00732)" stroke-width="47.79"/></g>
<g transform="translate(38.9,478.6)" fill="#333" stroke="#333" stroke-width="0.35"><text x="0" y="0" style="font-size:10.5px">4</text></g>
<g transform="translate(39.2,453.95)" fill="#333" stroke="#333" stroke-width="0.35"><text x="-16.68" y="0" style="font-size:15px"> 0</text><path d="M823 0H643V1098Q578 1038 472 979T283 890V1057Q434 1124 547 1221T707 1409H823Z" transform="translate(-16.68,0) scale(0.00732,-0.00732)" stroke-width="47.79"/></g>
<g transform="translate(38.9,448.45)" fill="#333" stroke="#333" stroke-width="0.35"><text x="0" y="0" style="font-size:10.5px">5</text></g>
<g transform="translate(39.2,423.8)" fill="#333" stroke="#333" stroke-width="0.35"><text x="-16.68" y="0" style="font-size:15px"> 0</text><path d="M823 0H643V1098Q578 1038 472 979T283 890V1057Q434 1124 547 1221T707 1409H823Z" transform="translate(-16.68,0) scale(0.00732,-0.00732)" stroke-width="47.79"/></g>
<g transform="translate(38.9,418.3)" fill="#333" stroke="#333" stroke-width="0.35"><text x="0" y="0" style="font-size:10.5px">6</text></g>
<g transform="translate(39.2,393.65)" fill="#333" stroke="#333" stroke-width="0.35"><text x="-16.68" y="0" style="font-size:15px"> 0</text><path d="M823 0H643V1098Q578 1038 472 979T283 890V1057Q434 1124 547 1221T707 1409H823Z" transform="translate(-16.68,0) scale(0.00732,-0.00732)" stroke-width="47.79"/></g>
<g transform="translate(38.9,388.15)" fill="#333" stroke="#333" stroke-width="0.35"><text x="0" y="0" style="font-size:10.5px">7</text></g>
<g transform="translate(39.2,363.5)" fill="#333" stroke="#333" stroke-width="0.35"><text x="-16.68" y="0" style="font-size:15px"> 0</text><path d="M823 0H643V1098Q578 1038 472 979T283 890V1057Q434 1124 547 1221T707 1409H823Z" transform="translate(-16.68,0) scale(0.00732,-0.00732)" stroke-width="47.79"/></g>
<g transform="translate(38.9,358)" fill="#333" stroke="#333" stroke-width="0.35"><text x="0" y="0" style="font-size:10.5px">8</text></g>
<text transform="translate(28.7,24.8) scale(0.93,1)" class="big">a</text>
<text transform="translate(28.2,343.6)" class="big">b</text>
<text transform="translate(14.6,167.2) rotate(-90)" text-anchor="middle" class="ax" textLength="72" lengthAdjust="spacingAndGlyphs">CFU/mL</text>
<text transform="translate(14.6,477.9) rotate(-90)" text-anchor="middle" class="ax" textLength="72" lengthAdjust="spacingAndGlyphs">CFU/mL</text>
<text x="319" y="643.5" class="ax" textLength="97" lengthAdjust="spacingAndGlyphs">Time (min)</text>
</svg>
</body></html>
